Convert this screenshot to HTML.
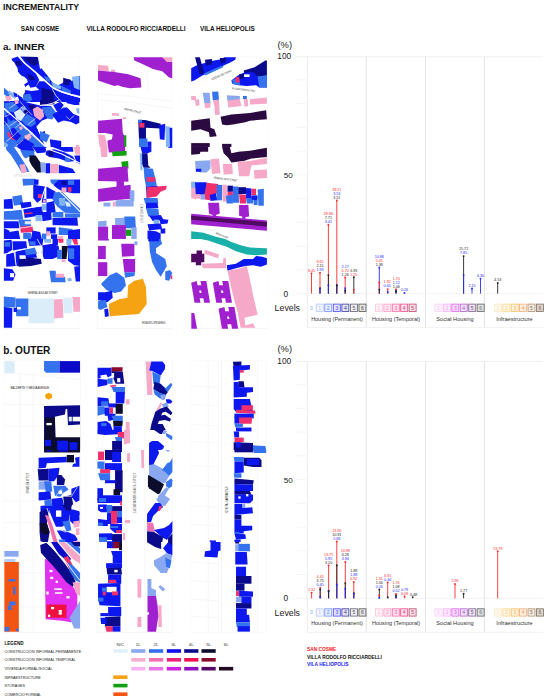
<!DOCTYPE html>
<html><head><meta charset="utf-8"><style>
html,body{margin:0;padding:0;background:#fff;}
svg{display:block;}
text{font-family:"Liberation Sans",sans-serif;}
</style></head><body>
<svg width="550" height="698" viewBox="0 0 550 698">
<rect width="550" height="698" fill="#fff"/>
<clipPath id="c0"><rect x="0.0" y="55.0" width="85.0" height="92.0"/></clipPath>
<g clip-path="url(#c0)"><g transform="translate(0.0,55.0) scale(0.15455)"><polygon points="25,12 518,12 518,595 25,595" fill="#f2f2f2"/><polygon points="27,14 516,14 516,595 27,595" fill="#ffffff"/><polygon points="74,24 115,10 122,12 162,58 232,118 254,162 232,205 197,212 185,191 164,207 156,191 180,175 175,159 159,143 138,132 127,122 116,106 114,85 101,64 93,48 79,37" fill="#0c18ee"/><polygon points="98,37 132,40 140,64 114,71 101,58" fill="#0a0a8a"/><polygon points="176,120 218,141 225,162 190,162" fill="#0a0a8a"/><polygon points="132,10 245,13 259,90 268,85 303,127 338,176 374,198 402,183 444,155 465,169 518,134 518,272 458,254 400,236 345,212 289,162 225,106 162,53" fill="#0c18ee"/><polygon points="150,13 240,13 244,58 222,69 191,53 160,30" fill="#0a0a8a"/><polygon points="176,21 232,14 247,49 204,64" fill="#0a0a8a"/><polygon points="282,134 324,150 324,178 300,165" fill="#3472ee"/><polygon points="331,176 395,200 395,222 345,212" fill="#80b4f4"/><polygon points="395,198 458,230 458,250 400,236" fill="#3472ee"/><polygon points="465,141 515,134 515,226 479,212" fill="#80b4f4"/><polygon points="409,148 458,162 444,198 409,190" fill="#0a0a8a"/><polygon points="162,226 204,233 254,226 232,205 254,170 289,170 345,218 400,244 458,262 518,278 518,304 354,304 154,304 150,262 162,240" fill="#0c18ee"/><polygon points="268,212 352,233 345,304 268,304" fill="#0a0a8a"/><polygon points="150,255 195,250 210,290 185,305 150,290" fill="#3472ee"/><polygon points="26,212 69,249 53,275 26,254" fill="#3472ee"/><polygon points="58,228 106,265 95,286 53,249" fill="#80b4f4"/><polygon points="32,265 69,265 79,291 42,297" fill="#f5a8c8"/><polygon points="111,254 143,275 159,304 127,304" fill="#0c18ee"/><polygon points="85,240 110,250 115,270 95,275" fill="#0c18ee"/><polygon points="26,352 291,595 26,595" fill="#3472ee"/><polygon points="26,300 130,296 259,326 330,330 345,395 270,425 235,465 265,530 291,588 26,344" fill="#0c18ee"/><polygon points="26,312 85,302 122,339 90,371 53,365 32,344" fill="#3472ee"/><polygon points="90,291 116,291 122,312 101,318" fill="#f5a8c8"/><polygon points="106,318 132,312 140,331 122,339" fill="#0c18ee"/><polygon points="132,339 159,333 169,355 148,368" fill="#8aa8f0"/><polygon points="154,360 180,349 191,371 164,386" fill="#0a0a8a"/><polygon points="180,323 217,320 233,339 217,360 191,349" fill="#0a0a8a"/><polygon points="212,349 244,333 275,355 286,397 259,424 222,397" fill="#f5a8c8"/><polygon points="90,371 132,349 164,386 138,429 106,413" fill="#dcedfa"/><polygon points="138,424 175,381 222,408 233,445 201,466 164,455" fill="#3472ee"/><polygon points="37,381 64,376 127,439 106,461 53,413" fill="#0c18ee"/><polygon points="53,439 90,418 132,450 122,477 74,471" fill="#3472ee"/><polygon points="122,466 143,461 148,477 132,487" fill="#f5a8c8"/><polygon points="42,503 69,498 101,530 90,551 64,540" fill="#f0306c"/><polygon points="58,482 90,471 138,524 106,556 74,530" fill="#0c18ee"/><polygon points="148,492 180,482 191,503 159,524" fill="#3472ee"/><polygon points="154,524 191,508 206,530 180,556" fill="#f5a8c8"/><polygon points="111,572 159,540 222,577 212,595 116,595" fill="#0c18ee"/><polygon points="222,466 244,482 233,503 217,492" fill="#0c18ee"/><polygon points="259,503 291,492 291,556 270,540" fill="#0c18ee"/><polygon points="26,561 53,577 48,595 26,595" fill="#80b4f4"/><polygon points="26,355 42,371 37,386 26,381" fill="#3472ee"/><polygon points="26,395 45,400 50,440 26,450" fill="#0c18ee"/><polygon points="26,470 50,480 45,520 26,515" fill="#3472ee"/><polygon points="259,291 365,291 349,318 259,323" fill="#0a0a8a"/><polygon points="418,291 513,291 513,323 481,323 434,312" fill="#0c18ee"/><polygon points="344,323 391,302 412,323 381,371 365,360" fill="#0c18ee"/><polygon points="269,339 333,333 365,376 338,418 312,413 291,386" fill="#3472ee"/><polygon points="338,386 412,339 434,339 476,381 513,397 513,439 492,450 460,434 412,424 375,439" fill="#0c18ee"/><polygon points="492,344 513,344 513,381 497,376" fill="#80b4f4"/><polygon points="259,355 275,349 285,397 259,408" fill="#f5a8c8"/><polygon points="259,492 322,519 301,566 259,545" fill="#3472ee"/><polygon points="322,545 396,556 396,595 328,595" fill="#0c18ee"/><polygon points="492,582 513,582 513,595 492,595" fill="#f5a8c8"/><polyline points="118,6 162,55 225,108 289,164 345,214 400,238 458,256 525,272" fill="none" stroke="#ffffff" stroke-width="10" stroke-linejoin="round" stroke-linecap="butt"/><polyline points="259,326 300,322 340,312 381,291" fill="none" stroke="#ffffff" stroke-width="6" stroke-linejoin="round" stroke-linecap="butt"/><polyline points="26,344 110,420 200,500 291,588" fill="none" stroke="#ffffff" stroke-width="8" stroke-linejoin="round" stroke-linecap="butt"/><polyline points="338,222 360,260 397,304" fill="none" stroke="#ffffff" stroke-width="5" stroke-linejoin="round" stroke-linecap="butt"/><polyline points="428,397 449,418 481,392" fill="none" stroke="#ffffff" stroke-width="4" stroke-linejoin="round" stroke-linecap="butt"/><polyline points="130,300 170,350 210,390" fill="none" stroke="#ffffff" stroke-width="4" stroke-linejoin="round" stroke-linecap="butt"/><polyline points="60,300 100,270" fill="none" stroke="#ffffff" stroke-width="4" stroke-linejoin="round" stroke-linecap="butt"/><polyline points="30,400 70,380" fill="none" stroke="#ffffff" stroke-width="4" stroke-linejoin="round" stroke-linecap="butt"/><polyline points="100,470 140,440" fill="none" stroke="#ffffff" stroke-width="4" stroke-linejoin="round" stroke-linecap="butt"/><polyline points="160,540 210,505" fill="none" stroke="#ffffff" stroke-width="4" stroke-linejoin="round" stroke-linecap="butt"/><polyline points="60,345 110,310" fill="none" stroke="#ffffff" stroke-width="4" stroke-linejoin="round" stroke-linecap="butt"/><polyline points="95,375 150,330" fill="none" stroke="#ffffff" stroke-width="4" stroke-linejoin="round" stroke-linecap="butt"/><polyline points="130,410 180,370" fill="none" stroke="#ffffff" stroke-width="4" stroke-linejoin="round" stroke-linecap="butt"/><polyline points="180,450 230,410" fill="none" stroke="#ffffff" stroke-width="4" stroke-linejoin="round" stroke-linecap="butt"/><polyline points="30,430 60,470 80,520" fill="none" stroke="#ffffff" stroke-width="4" stroke-linejoin="round" stroke-linecap="butt"/><polyline points="60,460 120,420" fill="none" stroke="#ffffff" stroke-width="4" stroke-linejoin="round" stroke-linecap="butt"/><polyline points="40,560 90,520 120,490" fill="none" stroke="#ffffff" stroke-width="4" stroke-linejoin="round" stroke-linecap="butt"/><polyline points="100,590 150,550" fill="none" stroke="#ffffff" stroke-width="4" stroke-linejoin="round" stroke-linecap="butt"/></g></g>
<clipPath id="c1"><rect x="0.0" y="147.0" width="85.0" height="92.0"/></clipPath>
<g clip-path="url(#c1)"><g transform="translate(0.0,147.0) scale(0.15455)"><polygon points="25,0 518,0 518,595 25,595" fill="#f2f2f2"/><polygon points="27,0 516,0 516,595 27,595" fill="#ffffff"/><polygon points="38,0 92,0 175,130 190,160 140,166 120,130 70,50 40,18" fill="#3472ee"/><polygon points="125,115 160,110 175,160 140,170" fill="#f5a8c8"/><polygon points="110,0 210,0 225,30 160,35" fill="#0c18ee"/><polygon points="130,20 220,25 225,60 190,62 165,75 150,60" fill="#3472ee"/><polygon points="190,55 230,55 262,100 265,165 240,165 205,120 190,90" fill="#0c0c2c"/><polygon points="210,0 300,0 295,35 240,40" fill="#0c18ee"/><polygon points="265,100 292,100 292,165 265,165" fill="#8aa8f0"/><polygon points="295,105 325,105 325,170 295,170" fill="#0c18ee"/><polygon points="325,110 375,110 375,170 325,170" fill="#f5a8c8"/><polygon points="380,115 470,140 488,168 380,170" fill="#0c18ee"/><polygon points="300,25 350,15 420,35 470,60 490,90 440,95 380,75 320,65 295,50" fill="#0c18ee"/><polygon points="315,25 345,25 345,60 315,60" fill="#0a0a8a"/><polygon points="420,60 455,60 455,95 420,95" fill="#3472ee"/><polygon points="340,0 470,0 475,30 420,30" fill="#0c18ee"/><polygon points="475,0 518,0 518,50 490,50" fill="#f5a8c8"/><polygon points="480,55 518,55 518,110 495,100" fill="#0c18ee"/><polyline points="295,8 400,45 518,105" fill="none" stroke="#ffffff" stroke-width="7" stroke-linejoin="round" stroke-linecap="butt"/><polyline points="92,-8 165,95 210,170" fill="none" stroke="#ffffff" stroke-width="11" stroke-linejoin="round" stroke-linecap="butt"/><polygon points="145,205 230,205 235,245 150,250" fill="#3472ee"/><polygon points="220,210 250,210 248,245 222,245" fill="#0c18ee"/><polygon points="215,245 290,255 285,330 240,360 215,330" fill="#0c18ee"/><polygon points="245,305 270,305 270,330 245,330" fill="#f0306c"/><polygon points="300,255 360,290 345,335 300,335" fill="#0c18ee"/><polygon points="325,210 380,210 380,240 330,245" fill="#3472ee"/><polygon points="380,212 518,210 518,300 470,300 400,285 340,250" fill="#0c18ee"/><polygon points="400,220 430,220 430,245 400,245" fill="#0a0a8a"/><polygon points="440,215 480,215 480,245 440,245" fill="#3472ee"/><polygon points="398,262 430,262 430,295 398,295" fill="#f5a8c8"/><polygon points="440,260 462,260 462,290 440,290" fill="#f0306c"/><polygon points="350,295 400,290 518,400 518,430 420,425 370,385 340,340" fill="#3472ee"/><polygon points="380,330 420,330 420,380 385,380" fill="#80b4f4"/><polygon points="420,350 450,360 460,385 430,385" fill="#dcedfa"/><polygon points="270,335 300,335 300,360 270,360" fill="#0c18ee"/><polygon points="278,340 296,340 296,358 278,358" fill="#f5a8c8"/><polygon points="25,340 80,335 85,400 25,400" fill="#0c18ee"/><polygon points="80,320 140,310 150,370 90,380" fill="#3472ee"/><polygon points="130,360 200,355 205,395 140,400" fill="#0c18ee"/><polygon points="25,415 140,405 150,470 25,470" fill="#3472ee"/><polygon points="150,400 270,385 280,440 160,460" fill="#0c18ee"/><polygon points="155,428 210,423 210,432 155,437" fill="#f0306c"/><polygon points="270,370 300,370 300,410 270,410" fill="#80b4f4"/><polygon points="300,360 350,350 360,420 300,430" fill="#0c18ee"/><polygon points="230,440 270,440 270,480 230,480" fill="#80b4f4"/><polygon points="270,420 330,420 335,470 275,480" fill="#0c18ee"/><polygon points="340,420 410,420 410,455 340,455" fill="#3472ee"/><polygon points="340,460 500,455 505,510 340,510" fill="#0c18ee"/><polygon points="420,430 518,430 518,455 420,455" fill="#3472ee"/><polygon points="25,480 120,480 125,525 25,525" fill="#0c18ee"/><polygon points="120,470 200,470 200,520 130,520" fill="#3472ee"/><polygon points="160,480 200,480 200,500 160,500" fill="#dcedfa"/><polygon points="130,515 210,510 215,550 135,555" fill="#f0306c"/><polygon points="25,525 60,540 70,595 25,595" fill="#0c18ee"/><polygon points="60,550 120,540 130,595 60,595" fill="#0c18ee"/><polygon points="210,540 260,550 270,595 200,595" fill="#0c18ee"/><polygon points="150,555 200,555 200,595 150,595" fill="#3472ee"/><polygon points="300,520 360,520 360,560 300,560" fill="#0c18ee"/><polygon points="300,545 325,545 325,575 300,575" fill="#f5a8c8"/><polygon points="380,520 470,530 460,570 380,570" fill="#3472ee"/><polygon points="440,540 518,530 518,595 440,595" fill="#0c18ee"/><polygon points="375,578 410,578 410,595 375,595" fill="#f5a8c8"/><polygon points="270,560 300,560 300,595 270,595" fill="#3472ee"/><polygon points="330,565 370,565 370,595 330,595" fill="#0c18ee"/><polyline points="25,412 140,402 270,378" fill="none" stroke="#ffffff" stroke-width="8" stroke-linejoin="round" stroke-linecap="butt"/><polyline points="300,245 280,300 258,375" fill="none" stroke="#ffffff" stroke-width="7" stroke-linejoin="round" stroke-linecap="butt"/><polyline points="315,222 420,320 518,418" fill="none" stroke="#ffffff" stroke-width="7" stroke-linejoin="round" stroke-linecap="butt"/><polyline points="130,525 200,515 300,505 518,515" fill="none" stroke="#ffffff" stroke-width="5" stroke-linejoin="round" stroke-linecap="butt"/></g></g>
<clipPath id="c2"><rect x="0.0" y="239.0" width="85.0" height="92.0"/></clipPath>
<g clip-path="url(#c2)"><g transform="translate(0.0,239.0) scale(0.15455)"><polygon points="25,0 518,0 518,580 25,580" fill="#f2f2f2"/><polygon points="27,0 516,0 516,578 27,578" fill="#ffffff"/><polygon points="25,10 75,5 80,70 40,95 25,95" fill="#0c18ee"/><polygon points="30,20 65,20 65,50 30,50" fill="#3472ee"/><polygon points="80,15 170,15 175,60 110,70 85,75" fill="#0c18ee"/><polygon points="40,100 95,85 105,175 40,180" fill="#0c18ee"/><polygon points="100,80 160,70 200,65 230,85 240,120 190,125 150,130 120,175 105,175" fill="#0c18ee"/><polygon points="160,70 225,55 240,95 170,105" fill="#3472ee"/><polygon points="120,130 185,120 265,130 270,160 200,175 120,180" fill="#0a0a8a"/><polygon points="125,105 165,105 168,128 128,130" fill="#ffffff"/><polygon points="180,0 280,0 275,40 190,45" fill="#0c18ee"/><polygon points="190,15 230,15 230,40 190,40" fill="#3472ee"/><polygon points="275,40 340,30 380,45 385,110 340,130 285,130 270,90" fill="#0c18ee"/><polygon points="280,0 330,0 330,25 290,25" fill="#80b4f4"/><polygon points="375,0 410,0 410,25 380,25" fill="#f0306c"/><polygon points="340,0 375,0 375,40 340,40" fill="#0c18ee"/><polygon points="400,45 440,45 430,130 400,130" fill="#0c0c2c"/><polygon points="398,132 425,132 425,150 398,150" fill="#f5a8c8"/><polygon points="370,70 400,70 400,130 370,130" fill="#3472ee"/><polygon points="440,40 518,40 518,175 480,170 440,140" fill="#0c18ee"/><polygon points="440,60 480,60 480,130 445,130" fill="#3472ee"/><polygon points="430,0 465,0 460,40 430,40" fill="#80b4f4"/><polygon points="465,0 500,0 505,35 480,35" fill="#f0306c"/><polyline points="25,100 90,82 165,62" fill="none" stroke="#ffffff" stroke-width="6" stroke-linejoin="round" stroke-linecap="butt"/><polyline points="92,85 105,178" fill="none" stroke="#ffffff" stroke-width="6" stroke-linejoin="round" stroke-linecap="butt"/><polyline points="240,0 275,60 275,125" fill="none" stroke="#ffffff" stroke-width="5" stroke-linejoin="round" stroke-linecap="butt"/><polygon points="25,190 80,195 100,230 85,270 25,270" fill="#0c18ee"/><polygon points="65,220 92,222 90,248 65,248" fill="#ffffff"/><polygon points="320,205 360,205 365,245 420,245 425,280 330,280" fill="#3472ee"/><polygon points="360,225 415,225 415,250 360,250" fill="#f5a8c8"/><polygon points="435,255 460,250 465,270 440,275" fill="#80b4f4"/><polygon points="480,180 518,175 518,275 490,275" fill="#0c18ee"/><polygon points="180,312 320,312 320,316 180,316" fill="#f0f0f0"/><polygon points="25,372 100,378 100,442 25,445" fill="#3472ee"/><polygon points="25,440 80,448 78,575 25,575" fill="#0c18ee"/><polygon points="100,385 185,385 185,500 105,500" fill="#3472ee"/><polygon points="88,445 110,445 110,472 88,472" fill="#0c18ee"/><polygon points="110,440 135,440 135,456 110,456" fill="#ffffff"/><polygon points="185,385 350,385 350,545 185,545" fill="#dcedfa"/><polygon points="350,392 405,388 410,510 350,515" fill="#f5a8c8"/><polygon points="410,380 470,380 470,480 410,480" fill="#dcedfa"/><polygon points="470,375 518,375 518,470 475,470" fill="#f5a8c8"/></g></g>
<clipPath id="c3"><rect x="88.0" y="55.0" width="85.0" height="92.0"/></clipPath>
<g clip-path="url(#c3)"><g transform="translate(88.0,55.0) scale(0.15455)"><polygon points="60,12 545,12 545,595 60,595" fill="#f0f0f0"/><polygon points="62,14 543,14 543,595 62,595" fill="#ffffff"/><polyline points="62,250 300,270 545,300" fill="none" stroke="#ececec" stroke-width="3" stroke-linejoin="round" stroke-linecap="butt"/><polyline points="62,290 300,310 545,345" fill="none" stroke="#ececec" stroke-width="3" stroke-linejoin="round" stroke-linecap="butt"/><polyline points="380,60 390,240" fill="none" stroke="#f0f0f0" stroke-width="3" stroke-linejoin="round" stroke-linecap="butt"/><polygon points="295,15 480,15 545,45 545,150 525,145 480,105 420,90 345,55 300,35" fill="#a020d0"/><polygon points="480,14 545,14 545,45 510,45" fill="#f5a8c8"/><polygon points="65,65 130,70 135,105 65,100" fill="#f5a8c8"/><polygon points="150,95 175,95 175,115 150,115" fill="#f5a8c8"/><polygon points="65,100 170,110 260,125 340,150 345,210 270,215 220,205 195,195 170,200 65,165" fill="#a020d0"/><polygon points="155,375 200,378 200,395 155,392" fill="#f5a8c8"/><polygon points="225,402 245,402 245,415 225,415" fill="#f5a8c8"/><polygon points="65,425 220,412 225,505 240,530 240,595 130,595 125,555 155,545 160,515 110,505 65,505" fill="#a020d0"/><polygon points="65,515 110,520 125,595 75,595" fill="#f5a8c8"/><polygon points="232,520 248,520 248,595 235,595" fill="#12a012"/><polygon points="325,420 370,420 470,445 470,475 375,470 375,545 330,545" fill="#0a0a8a"/><polygon points="332,440 365,440 365,470 332,470" fill="#f0306c"/><polygon points="325,418 350,418 350,438 325,438" fill="#3472ee"/><polygon points="330,540 385,540 385,595 330,595" fill="#3472ee"/><polygon points="460,455 500,445 495,550 465,545" fill="#0c18ee"/><polygon points="500,460 530,465 530,595 505,595" fill="#80b4f4"/><polygon points="528,470 545,470 545,595 530,595" fill="#0c18ee"/><polygon points="385,560 410,560 410,595 385,595" fill="#0c18ee"/></g></g>
<clipPath id="c4"><rect x="88.0" y="147.0" width="85.0" height="92.0"/></clipPath>
<g clip-path="url(#c4)"><g transform="translate(88.0,147.0) scale(0.15455)"><polygon points="60,0 545,0 545,595 60,595" fill="#f0f0f0"/><polygon points="62,0 543,0 543,595 62,595" fill="#ffffff"/><polygon points="80,0 125,0 125,65 85,65" fill="#f5a8c8"/><polygon points="130,0 240,0 240,30 135,35" fill="#a020d0"/><polygon points="155,30 250,25 250,55 160,60" fill="#12a012"/><polygon points="215,95 260,90 262,140 220,130" fill="#12a012"/><polygon points="65,140 255,125 262,225 65,220" fill="#a020d0"/><polygon points="185,218 232,218 235,280 185,280" fill="#a020d0"/><polygon points="65,272 275,245 278,335 65,355" fill="#a020d0"/><polygon points="270,280 300,280 300,350 270,350" fill="#8aa8f0"/><polygon points="100,360 145,360 145,385 100,385" fill="#8aa8f0"/><polygon points="160,355 180,355 180,385 160,385" fill="#f5a8c8"/><polygon points="180,345 295,340 295,385 180,385" fill="#8aa8f0"/><polygon points="65,480 120,478 120,515 65,515" fill="#8aa8f0"/><polygon points="175,460 240,458 240,505 175,505" fill="#8aa8f0"/><polygon points="235,450 305,450 310,525 240,525" fill="#3472ee"/><polygon points="65,515 130,515 130,595 65,595" fill="#a020d0"/><polygon points="155,505 245,505 245,595 155,595" fill="#a020d0"/><polygon points="245,535 280,535 280,575 245,575" fill="#12a012"/><polygon points="280,520 315,520 315,595 280,595" fill="#8aa8f0"/><polygon points="340,0 410,0 410,30 385,40 350,40" fill="#0c18ee"/><polygon points="350,40 385,40 390,120 405,135 360,135 345,100" fill="#0a0a8a"/><polygon points="335,40 350,40 352,150 340,150" fill="#80b4f4"/><polygon points="360,135 420,140 430,180 440,220 445,250 375,255 365,200" fill="#3472ee"/><polygon points="380,195 435,195 435,225 380,225" fill="#f0306c"/><polygon points="375,255 450,250 460,300 380,330" fill="#0c18ee"/><polygon points="380,260 510,250 505,275 470,290 445,320 380,330" fill="#f0306c"/><polygon points="360,330 450,330 455,365 370,365" fill="#3472ee"/><polygon points="375,360 450,360 455,395 375,400" fill="#0c18ee"/><polygon points="375,395 455,400 460,440 390,450" fill="#3472ee"/><polygon points="395,445 470,440 490,470 420,480" fill="#0c18ee"/><polygon points="425,470 460,470 460,500 425,500" fill="#80b4f4"/><polygon points="460,465 520,470 515,495 470,500" fill="#0c18ee"/><polygon points="385,500 470,495 480,530 395,540" fill="#0c18ee"/><polygon points="385,540 440,545 470,560 470,595 385,595" fill="#0c18ee"/><polygon points="470,530 500,525 500,560 470,560" fill="#0c18ee"/><polygon points="520,0 545,0 545,6 520,6" fill="#0c18ee"/></g></g>
<clipPath id="c5"><rect x="88.0" y="239.0" width="85.0" height="92.0"/></clipPath>
<g clip-path="url(#c5)"><g transform="translate(88.0,239.0) scale(0.15455)"><polygon points="60,0 545,0 545,580 60,580" fill="#f0f0f0"/><polygon points="62,0 543,0 543,578 62,578" fill="#ffffff"/><polygon points="65,0 135,0 135,10 65,10" fill="#a020d0"/><polygon points="65,45 115,45 115,130 65,130" fill="#a020d0"/><polygon points="215,30 300,30 300,110 220,115" fill="#a020d0"/><polygon points="65,150 125,150 125,240 65,240" fill="#a020d0"/><polygon points="225,130 305,130 305,215 235,215" fill="#a020d0"/><polygon points="300,15 320,15 320,40 300,40" fill="#8aa8f0"/><polygon points="235,215 305,215 300,240 240,250" fill="#3472ee"/><polygon points="85,290 140,235 185,215 235,250 245,300 215,340 170,350 120,330 90,300" fill="#3472ee"/><polygon points="65,345 110,345 155,335 160,380 125,410 65,395" fill="#0c18ee"/><polygon points="65,400 115,395 125,440 80,460 65,450" fill="#3472ee"/><polygon points="105,455 130,450 135,500 110,505" fill="#0c18ee"/><polygon points="135,420 200,390 255,380 260,300 300,270 355,258 375,310 380,420 330,485 140,500" fill="#f5a312"/><polygon points="395,0 470,0 480,30 440,60 440,90 500,130 510,175 485,220 470,245 440,200 415,150 400,80" fill="#3472ee"/><polygon points="390,0 460,0 460,15 390,15" fill="#0c18ee"/><polygon points="500,210 530,200 545,220 525,270 500,265" fill="#3472ee"/><polygon points="535,235 545,235 545,260 535,260" fill="#f0306c"/></g></g>
<clipPath id="c6"><rect x="185.0" y="55.0" width="85.0" height="92.0"/></clipPath>
<g clip-path="url(#c6)"><g transform="translate(185.0,55.0) scale(0.15455)"><polygon points="38,12 532,12 532,595 38,595" fill="#f0f0f0"/><polygon points="40,14 530,14 530,595 40,595" fill="#ffffff"/><polygon points="40,85 70,70 100,62 130,50 180,38 235,28 255,15 330,15 325,30 300,45 240,72 170,105 110,135 60,165 40,172" fill="#0c18ee"/><polygon points="65,15 96,15 123,110 120,125 93,123" fill="#0a0a8a"/><polygon points="129,30 174,26 176,60 135,68" fill="#0a0a8a"/><polygon points="226,19 265,19 262,48 230,55" fill="#0a0a8a"/><polygon points="125,118 175,95 240,68 250,78 180,110 130,132" fill="#3472ee"/><polygon points="380,100 450,80 520,35 530,35 530,140 470,140 420,130 385,130" fill="#0a0a8a"/><polygon points="300,165 340,135 380,115 440,110 470,140 530,140 530,210 480,210 460,195 400,200 345,195 305,185" fill="#0c18ee"/><polygon points="470,140 530,130 530,210 480,210" fill="#3472ee"/><polygon points="305,160 345,150 360,195 310,190" fill="#3472ee"/><polygon points="325,145 350,140 355,175 330,180" fill="#f0306c"/><polygon points="350,125 380,120 385,150 355,155" fill="#0a0a8a"/><polygon points="382,125 418,125 418,142 382,142" fill="#ffffff"/><polygon points="40,265 70,265 72,290 90,285 95,325 70,330 65,295 40,290" fill="#f5a8c8"/><polygon points="115,245 160,245 165,310 125,310" fill="#8aa8f0"/><polygon points="125,310 165,310 165,340 130,345" fill="#f5a8c8"/><polygon points="175,238 215,236 220,290 180,292" fill="#3472ee"/><polygon points="180,292 220,290 225,385 195,390 190,330" fill="#f5a8c8"/><polygon points="270,260 355,265 355,300 275,300" fill="#8aa8f0"/><polygon points="275,295 355,285 365,330 280,340" fill="#f5a8c8"/><polygon points="375,265 400,265 400,285 375,285" fill="#3472ee"/><polygon points="380,285 405,285 410,330 385,335" fill="#f5a8c8"/><polygon points="420,285 530,275 530,315 420,320" fill="#f5a8c8"/><polygon points="40,425 160,410 165,470 190,480 205,525 160,530 155,500 100,480 40,490" fill="#2a0a40"/><polygon points="230,400 300,385 420,375 525,358 530,415 420,425 390,435 310,450 270,455 240,450" fill="#2a0a40"/><polygon points="40,570 160,570 160,595 40,595" fill="#2a0a40"/><polygon points="240,575 300,575 300,595 240,595" fill="#2a0a40"/></g></g>
<clipPath id="c7"><rect x="185.0" y="147.0" width="85.0" height="92.0"/></clipPath>
<g clip-path="url(#c7)"><g transform="translate(185.0,147.0) scale(0.15455)"><polygon points="38,0 532,0 532,595 38,595" fill="#f0f0f0"/><polygon points="40,0 530,0 530,595 40,595" fill="#ffffff"/><polygon points="40,0 150,0 150,30 100,30 95,45 40,50" fill="#2a0a40"/><polygon points="240,0 290,0 300,40 345,30 420,25 530,5 530,65 430,75 380,90 300,100 280,70 250,40" fill="#2a0a40"/><polygon points="65,90 165,85 165,140 140,165 105,165 70,160" fill="#8aa8f0"/><polygon points="70,140 105,140 105,160 72,160" fill="#0c18ee"/><polygon points="165,80 220,75 230,170 175,175" fill="#f5a8c8"/><polygon points="245,110 305,110 310,175 250,178" fill="#f5a8c8"/><polygon points="340,95 420,90 530,70 530,110 430,120 415,190 350,190" fill="#f5a8c8"/><polygon points="445,150 530,145 530,200 450,205" fill="#f5a8c8"/><polygon points="40,225 70,225 70,340 40,330" fill="#f5a8c8"/><polygon points="40,225 70,225 70,265 40,262" fill="#80b4f4"/><polygon points="65,228 140,228 145,305 70,310" fill="#0c18ee"/><polygon points="140,232 215,240 210,300 175,320 160,345 130,340 125,310" fill="#f0306c"/><polygon points="100,310 130,310 130,340 100,340" fill="#8aa8f0"/><polygon points="70,305 100,305 100,335 70,335" fill="#f5a8c8"/><polygon points="160,310 200,300 210,345 165,350" fill="#0c18ee"/><polygon points="205,245 240,245 240,345 205,345" fill="#3472ee"/><polygon points="240,245 270,245 275,355 245,355" fill="#f5a8c8"/><polygon points="275,250 310,250 310,290 275,290" fill="#0a0a8a"/><polygon points="275,290 310,290 310,315 275,315" fill="#f0306c"/><polygon points="265,315 310,310 310,365 270,365" fill="#3472ee"/><polygon points="310,255 345,255 350,360 310,360" fill="#3472ee"/><polygon points="345,260 395,260 395,305 345,305" fill="#0a0a8a"/><polygon points="350,305 395,310 395,365 355,365" fill="#f0306c"/><polygon points="395,265 430,268 430,330 395,330" fill="#0c18ee"/><polygon points="395,330 440,330 440,365 400,365" fill="#3472ee"/><polygon points="430,270 460,270 460,315 430,315" fill="#f0306c"/><polygon points="440,310 470,310 470,375 445,375" fill="#3472ee"/><polygon points="470,275 510,270 510,380 475,380" fill="#3472ee"/><polygon points="430,315 470,320 465,345 430,340" fill="#0c18ee"/><polygon points="150,360 220,360 225,430 200,440 200,470 180,470 180,440 155,430" fill="#a020d0"/><polygon points="350,375 410,375 415,450 390,455 390,475 370,475 370,450 350,445" fill="#a020d0"/><polygon points="40,432 530,475 530,542 40,500" fill="#a020d0"/><polygon points="40,445 180,458 530,485 530,515 180,482 40,470" fill="#500a62"/><polygon points="40,545 120,555 200,580 260,595 40,595" fill="#18b0a8"/></g></g>
<clipPath id="c8"><rect x="185.0" y="239.0" width="85.0" height="92.0"/></clipPath>
<g clip-path="url(#c8)"><g transform="translate(185.0,239.0) scale(0.15455)"><polygon points="38,0 532,0 532,580 38,580" fill="#f0f0f0"/><polygon points="40,0 530,0 530,578 40,578" fill="#ffffff"/><polygon points="100,0 260,0 300,20 360,40 420,55 530,60 530,100 460,105 400,100 330,80 270,50 210,30 150,10" fill="#18b0a8"/><polygon points="40,95 75,95 75,75 110,75 110,95 125,95 125,150 105,150 105,170 70,170 70,150 40,150" fill="#500a62"/><polygon points="130,70 220,100 215,125 125,95" fill="#f5a8c8"/><polygon points="110,160 245,155 250,120 265,125 265,190 115,190" fill="#f5a8c8"/><polygon points="270,170 330,160 380,130 440,130 460,110 500,115 530,125 530,165 490,180 440,170 390,175 330,190 275,205" fill="#0c18ee"/><polygon points="275,205 360,190 400,175 420,260 440,360 470,490 385,510 390,560 440,545 455,575 360,575 340,470 320,400 295,300" fill="#f5a8c8"/><polygon points="85,325 105,325 105,345 85,345" fill="#ffffff"/><polygon points="220,330 240,330 240,350 220,350" fill="#ffffff"/><polygon points="262,468 282,468 282,488 262,488" fill="#ffffff"/><polygon points="40,283 76,272 81,300 105,300 100,272 138,272 162,412 124,412 119,384 95,384 100,412 62,412" fill="#a020d0"/><polygon points="92,334 104,334 107,350 95,350" fill="#ffffff"/><polygon points="180,283 217,272 222,300 246,300 241,272 280,272 304,412 265,412 260,384 236,384 241,412 202,412" fill="#a020d0"/><polygon points="233,334 246,334 248,350 236,350" fill="#ffffff"/><polygon points="217,451 255,440 260,468 285,468 280,440 320,440 344,580 304,580 299,552 274,552 279,580 239,580" fill="#a020d0"/><polygon points="272,502 284,502 287,518 275,518" fill="#ffffff"/><polygon points="41,479 60,479 78,580 41,580" fill="#a020d0"/></g></g>
<clipPath id="c9"><rect x="0.0" y="358.0" width="85.0" height="92.0"/></clipPath>
<g clip-path="url(#c9)"><g transform="translate(0.0,358.0) scale(0.15455)"><polygon points="25,18 520,18 520,595 25,595" fill="#f0f0f0"/><polygon points="27,20 518,20 518,595 27,595" fill="#ffffff"/><polyline points="130,100 130,595" fill="none" stroke="#ececec" stroke-width="3" stroke-linejoin="round" stroke-linecap="butt"/><polyline points="215,100 215,595" fill="none" stroke="#ececec" stroke-width="3" stroke-linejoin="round" stroke-linecap="butt"/><polyline points="27,300 280,300" fill="none" stroke="#eeeeee" stroke-width="3" stroke-linejoin="round" stroke-linecap="butt"/><polyline points="27,440 280,440" fill="none" stroke="#eeeeee" stroke-width="3" stroke-linejoin="round" stroke-linecap="butt"/><polyline points="100,100 518,140 518,160" fill="none" stroke="#eeeeee" stroke-width="3" stroke-linejoin="round" stroke-linecap="butt"/><polygon points="28,20 95,20 95,100 28,100" fill="#dcedfa"/><polygon points="285,20 385,20 385,95 298,95 285,82" fill="#3472ee"/><polygon points="385,20 518,20 518,95 385,95" fill="#0a0ac8"/><polygon points="315,225 337,236 337,258 315,270 293,258 293,236" fill="#f5a312"/><polygon points="285,310 518,305 518,595 285,595" fill="#0a0a8a"/><polygon points="355,380 420,365 425,330 435,330 440,435 518,430 518,520 360,520" fill="#ffffff"/><polygon points="290,385 355,385 355,515 290,515" fill="#0c0c2c"/><polygon points="300,420 335,420 335,435 300,435" fill="#ffffff"/><polygon points="445,380 465,380 465,410 445,410" fill="#dcedfa"/><polygon points="470,380 518,380 518,410 470,410" fill="#ffffff"/><polygon points="285,512 518,512 518,595 285,595" fill="#0c0c2c"/><polygon points="370,535 440,535 440,595 370,595" fill="#0c18ee"/><polygon points="450,545 500,545 500,595 450,595" fill="#0c18ee"/><polygon points="290,530 330,530 330,570 290,570" fill="#0c18ee"/></g></g>
<clipPath id="c10"><rect x="0.0" y="450.0" width="85.0" height="92.0"/></clipPath>
<g clip-path="url(#c10)"><g transform="translate(0.0,450.0) scale(0.15455)"><polygon points="25,0 520,0 520,595 25,595" fill="#f0f0f0"/><polygon points="27,0 518,0 518,595 27,595" fill="#ffffff"/><polyline points="130,0 130,595" fill="none" stroke="#ececec" stroke-width="3" stroke-linejoin="round" stroke-linecap="butt"/><polyline points="215,0 215,595" fill="none" stroke="#ececec" stroke-width="3" stroke-linejoin="round" stroke-linecap="butt"/><polyline points="27,330 215,330" fill="none" stroke="#eeeeee" stroke-width="3" stroke-linejoin="round" stroke-linecap="butt"/><polyline points="27,470 215,470" fill="none" stroke="#eeeeee" stroke-width="3" stroke-linejoin="round" stroke-linecap="butt"/><polygon points="285,0 518,0 518,16 285,16" fill="#0c0c2c"/><polygon points="300,0 330,0 330,10 300,10" fill="#0a0ac8"/><polygon points="380,0 440,0 440,12 380,12" fill="#0a0ac8"/><polygon points="250,50 432,44 432,80 303,85 297,115 250,121" fill="#0c18ee"/><polygon points="432,32 479,32 479,80 432,80" fill="#0c0c2c"/><polygon points="485,50 514,44 514,109 467,109 473,91 491,85" fill="#0c18ee"/><polygon points="244,121 315,121 315,197 250,197" fill="#0a0a8a"/><polygon points="315,121 385,115 379,162 350,203 315,203" fill="#0c18ee"/><polygon points="368,162 397,162 421,191 415,226 368,226" fill="#0a0a8a"/><polygon points="250,203 303,203 303,256 250,256" fill="#8aa8f0"/><polygon points="285,203 332,203 338,268 297,273" fill="#3472ee"/><polygon points="250,273 326,268 332,320 250,326" fill="#0c18ee"/><polygon points="344,232 421,232 444,256 409,279 391,303 356,297" fill="#3472ee"/><polygon points="379,262 403,262 403,285 379,285" fill="#ffffff"/><polygon points="462,250 514,232 514,326 491,338 462,303" fill="#0c18ee"/><polygon points="409,303 462,291 473,350 444,385 415,362" fill="#0a0a8a"/><polygon points="332,315 403,309 415,362 391,409 344,409" fill="#0c18ee"/><polygon points="262,362 315,356 320,409 262,409" fill="#0c18ee"/><polygon points="285,326 332,320 338,362 291,362" fill="#3472ee"/><polygon points="426,385 473,385 514,397 514,421 426,421" fill="#0c18ee"/><polygon points="256,403 303,379 315,426 303,474 321,532 309,603 262,591 256,532 256,450" fill="#0a0a8a"/><polygon points="256,474 303,474 321,532 297,550 262,532" fill="#0c0c2c"/><polygon points="309,362 403,356 450,415 444,462 403,497 362,497 332,427" fill="#0c18ee"/><polygon points="362,391 397,391 397,432 362,432" fill="#ffffff"/><polygon points="403,356 462,356 462,391 426,391" fill="#0a0a8a"/><polygon points="450,403 514,403 514,474 473,479 450,456" fill="#0c18ee"/><polygon points="403,462 450,456 462,521 432,532" fill="#3472ee"/><polygon points="473,462 514,456 514,497 479,503" fill="#f5a8c8"/><polygon points="368,521 415,521 485,550 503,579 473,615 432,603 397,573" fill="#0c18ee"/><polygon points="491,509 514,503 514,550 491,550" fill="#f5a8c8"/><polygon points="379,579 420,579 432,626 397,632" fill="#3472ee"/><polygon points="473,591 514,585 514,668 473,668" fill="#f5a8c8"/><polygon points="409,632 462,626 491,685 450,697" fill="#f5a8c8"/><polygon points="262,597 309,603 356,662 391,732 344,744 309,697 268,685" fill="#0a0a8a"/><polygon points="291,421 315,426 344,491 368,579 391,650 373,662 344,591 321,503" fill="#f070b0"/><polyline points="303,375 330,450 356,530 380,600 400,660" fill="none" stroke="#ffffff" stroke-width="5" stroke-linejoin="round" stroke-linecap="butt"/><polyline points="362,500 420,530 480,520" fill="none" stroke="#ffffff" stroke-width="5" stroke-linejoin="round" stroke-linecap="butt"/><polyline points="250,122 303,118" fill="none" stroke="#ffffff" stroke-width="5" stroke-linejoin="round" stroke-linecap="butt"/><polyline points="330,318 360,300 400,250" fill="none" stroke="#ffffff" stroke-width="4" stroke-linejoin="round" stroke-linecap="butt"/><polyline points="420,300 462,300 500,240" fill="none" stroke="#ffffff" stroke-width="4" stroke-linejoin="round" stroke-linecap="butt"/></g></g>
<clipPath id="c11"><rect x="0.0" y="542.0" width="85.0" height="92.0"/></clipPath>
<g clip-path="url(#c11)"><g transform="translate(0.0,542.0) scale(0.15455)"><polygon points="25,0 520,0 520,585 25,585" fill="#f0f0f0"/><polygon points="27,0 518,0 518,583 27,583" fill="#ffffff"/><polyline points="130,0 130,580" fill="none" stroke="#ececec" stroke-width="3" stroke-linejoin="round" stroke-linecap="butt"/><polyline points="215,0 215,580" fill="none" stroke="#ececec" stroke-width="3" stroke-linejoin="round" stroke-linecap="butt"/><polyline points="130,200 280,200" fill="none" stroke="#eeeeee" stroke-width="3" stroke-linejoin="round" stroke-linecap="butt"/><polyline points="130,420 280,420" fill="none" stroke="#eeeeee" stroke-width="3" stroke-linejoin="round" stroke-linecap="butt"/><polygon points="28,58 120,58 120,95 28,95" fill="#8aa8f0"/><polygon points="28,110 100,110 100,130 28,130" fill="#b8cdf6"/><polygon points="28,130 122,130 122,580 28,580" fill="#f25512"/><polygon points="55,240 100,240 100,255 55,255" fill="#3472ee"/><polygon points="85,290 100,290 100,340 85,340" fill="#3472ee"/><polygon points="60,385 100,385 100,410 60,410" fill="#3472ee"/><polygon points="50,410 75,410 75,440 50,440" fill="#3472ee"/><polygon points="30,550 60,550 60,578 30,578" fill="#3472ee"/><polygon points="105,560 120,560 120,578 105,578" fill="#3472ee"/><polygon points="290,110 330,120 380,180 430,240 480,300 500,340 500,480 460,520 400,510 295,500" fill="#e032f0"/><polygon points="300,405 430,405 430,490 300,490" fill="#f01040"/><polygon points="320,180 340,180 340,195 320,195" fill="#ffffff"/><polygon points="325,225 345,225 345,240 325,240" fill="#ffffff"/><polygon points="350,300 400,300 400,310 350,310" fill="#ffffff"/><polygon points="355,325 405,325 405,335 355,335" fill="#ffffff"/><polygon points="300,320 315,320 315,340 300,340" fill="#ffffff"/><polygon points="430,350 450,350 450,365 430,365" fill="#ffffff"/><polygon points="330,420 350,420 350,435 330,435" fill="#ffffff"/><polygon points="380,440 400,440 400,470 380,470" fill="#ffffff"/><polygon points="310,470 325,470 325,485 310,485" fill="#ffffff"/><polygon points="360,250 375,250 375,265 360,265" fill="#ffffff"/><polygon points="260,20 300,5 330,30 370,80 420,140 470,210 490,260 470,290 430,260 390,210 340,150 300,110 265,70" fill="#0a0a8a"/><polygon points="330,0 370,0 420,60 460,110 440,130 380,80" fill="#0a0ac8"/><polygon points="380,0 420,0 518,90 518,140 470,110 420,50" fill="#f5a8c8"/><polygon points="430,0 470,0 518,40 518,80" fill="#3472ee"/><polygon points="460,0 518,0 518,30 480,25" fill="#0a0a8a"/><polygon points="410,100 440,90 490,190 460,200" fill="#f0306c"/><polygon points="440,130 480,160 518,200 518,260 490,250 450,190" fill="#3472ee"/><polygon points="470,260 518,260 518,350 490,330" fill="#f5a8c8"/><polygon points="450,490 518,380 518,560 480,560" fill="#8aa8f0"/><polyline points="300,0 360,60 420,120 480,200 518,250" fill="none" stroke="#ffffff" stroke-width="6" stroke-linejoin="round" stroke-linecap="butt"/></g></g>
<clipPath id="c12"><rect x="88.0" y="358.0" width="85.0" height="92.0"/></clipPath>
<g clip-path="url(#c12)"><g transform="translate(88.0,358.0) scale(0.15455)"><polygon points="60,18 548,18 548,595 60,595" fill="#f0f0f0"/><polygon points="62,20 546,20 546,595 62,595" fill="#ffffff"/><polyline points="245,20 245,595" fill="none" stroke="#eeeeee" stroke-width="3" stroke-linejoin="round" stroke-linecap="butt"/><polyline points="368,20 368,595" fill="none" stroke="#eeeeee" stroke-width="3" stroke-linejoin="round" stroke-linecap="butt"/><polyline points="62,40 240,40" fill="none" stroke="#eeeeee" stroke-width="3" stroke-linejoin="round" stroke-linecap="butt"/><polygon points="62,63 152,63 152,114 125,127 85,130 62,134" fill="#0c18ee"/><polygon points="152,60 225,60 222,87 152,90" fill="#8a0a2a"/><polygon points="152,87 225,87 235,167 179,167 165,134" fill="#0a0a8a"/><polygon points="79,114 119,107 132,134 85,134" fill="#ffffff"/><polygon points="189,130 209,130 209,157 189,157" fill="#ffffff"/><polygon points="155,97 169,97 169,127 155,127" fill="#ffffff"/><polygon points="125,134 159,130 159,167 125,167" fill="#3472ee"/><polygon points="62,134 125,140 125,174 62,187" fill="#0c18ee"/><polygon points="145,177 182,174 182,184 145,187" fill="#f0306c"/><polygon points="152,187 239,187 239,220 165,220" fill="#3472ee"/><polygon points="179,220 239,220 235,294 179,294" fill="#0c18ee"/><polygon points="62,254 132,260 139,307 62,314" fill="#0c18ee"/><polygon points="85,280 132,280 132,314 85,314" fill="#3472ee"/><polygon points="132,294 185,294 185,320 132,320" fill="#0c18ee"/><polygon points="179,297 225,297 225,361 179,361" fill="#0c0c2c"/><polygon points="139,320 162,320 162,361 139,361" fill="#f0306c"/><polygon points="62,314 105,314 112,361 62,374" fill="#3472ee"/><polygon points="105,320 139,320 139,374 109,374" fill="#0c18ee"/><polygon points="125,361 179,361 172,400 132,407" fill="#0c18ee"/><polygon points="152,374 225,374 225,407 165,407" fill="#3472ee"/><polygon points="162,407 225,407 222,441 165,441" fill="#0c0c2c"/><polygon points="62,414 119,407 145,427 159,466 62,466" fill="#0c18ee"/><polygon points="85,421 119,421 119,441 85,441" fill="#3472ee"/><polygon points="165,441 219,441 219,466 165,466" fill="#0c18ee"/><polygon points="245,267 269,267 269,300 245,300" fill="#f5a8c8"/><polygon points="245,414 269,414 269,466 245,466" fill="#f5a8c8"/><polygon points="61,466 220,466 220,492 110,498 61,492" fill="#0c18ee"/><polygon points="191,479 240,479 240,521 195,518" fill="#f0306c"/><polygon points="175,511 220,511 220,537 181,537" fill="#3472ee"/><polygon points="156,537 220,537 220,595 156,595" fill="#0a0a8a"/><polygon points="233,466 272,466 272,550 233,560" fill="#f5a8c8"/><polygon points="373,23 410,23 417,240 383,240" fill="#f5a8c8"/><polygon points="410,23 483,23 500,47 497,73 470,114 423,87 396,80 403,53" fill="#0c18ee"/><polygon points="416,87 470,114 463,174 423,167" fill="#3472ee"/><polygon points="430,154 470,167 497,194 517,220 503,240 463,227 423,200" fill="#0a0a8a"/><polygon points="470,167 503,194 537,160 546,174 517,220" fill="#3472ee"/><polygon points="423,200 463,227 503,240 497,267 463,260 430,234" fill="#3472ee"/><polygon points="470,240 503,240 490,274 470,267" fill="#8aa8f0"/><polygon points="430,360 470,287 480,294 443,374" fill="#f5a8c8"/><polygon points="503,267 530,267 546,280 537,294 510,294" fill="#0c18ee"/><polygon points="477,300 510,287 523,314 490,327" fill="#8aa8f0"/><polygon points="436,347 470,327 483,347 436,466 403,466 410,427" fill="#0a0a8a"/><polygon points="470,327 510,314 546,354 537,371 503,347 477,354" fill="#0a0a8a"/><polygon points="463,374 497,367 537,394 530,411 497,401 456,407" fill="#0a0a8a"/><polygon points="430,427 483,427 503,466 423,466" fill="#0a0a8a"/><polygon points="427,466 492,466 479,492 466,492" fill="#0a0a8a"/><polygon points="492,466 512,472 499,492 479,492" fill="#8aa8f0"/><polygon points="505,485 544,505 546,524 538,531 505,505" fill="#3472ee"/><polygon points="395,550 414,537 453,537 492,570 486,589 470,595 395,595" fill="#0c18ee"/></g></g>
<clipPath id="c13"><rect x="88.0" y="450.0" width="85.0" height="92.0"/></clipPath>
<g clip-path="url(#c13)"><g transform="translate(88.0,450.0) scale(0.15455)"><polygon points="60,0 548,0 548,595 60,595" fill="#f0f0f0"/><polygon points="62,0 546,0 546,595 62,595" fill="#ffffff"/><polyline points="245,0 245,595" fill="none" stroke="#eeeeee" stroke-width="3" stroke-linejoin="round" stroke-linecap="butt"/><polyline points="368,0 368,595" fill="none" stroke="#eeeeee" stroke-width="3" stroke-linejoin="round" stroke-linecap="butt"/><polygon points="156,0 220,0 220,13 175,13" fill="#0a0a8a"/><polygon points="110,-6 175,-6 175,65 110,65" fill="#0a0a8a"/><polygon points="156,13 214,13 214,78 156,78" fill="#0c18ee"/><polygon points="65,10 104,10 104,65 65,65" fill="#f0306c"/><polygon points="61,75 107,75 107,124 61,120" fill="#3472ee"/><polygon points="110,85 220,85 220,130 110,130" fill="#0c18ee"/><polygon points="78,124 143,124 143,150 78,150" fill="#f0306c"/><polygon points="65,150 143,150 143,195 80,195" fill="#3472ee"/><polygon points="175,130 224,130 224,273 175,273" fill="#0a0a8a"/><polygon points="110,195 175,195 175,215 110,215" fill="#0c18ee"/><polygon points="165,254 208,254 208,293 165,293" fill="#0c0c2c"/><polygon points="61,247 97,247 97,324 61,324" fill="#0c18ee"/><polygon points="97,293 220,293 220,324 97,324" fill="#0c18ee"/><polygon points="253,20 272,20 272,78 253,78" fill="#f5a8c8"/><polygon points="240,0 272,0 272,-32 240,0" fill="#f5a8c8"/><polygon points="61,311 220,311 220,343 61,343" fill="#0c18ee"/><polygon points="71,311 117,311 117,337 71,337" fill="#3472ee"/><polygon points="208,330 220,330 220,359 208,359" fill="#f0306c"/><polygon points="65,353 123,353 123,402 85,402 65,390" fill="#0c18ee"/><polygon points="78,368 97,368 97,381 78,381" fill="#ffffff"/><polygon points="117,356 156,356 156,408 123,408" fill="#3472ee"/><polygon points="156,363 220,363 220,395 156,395" fill="#0a0a8a"/><polygon points="188,395 220,395 220,434 188,434" fill="#3472ee"/><polygon points="143,395 188,395 195,476 149,479" fill="#f0306c"/><polygon points="123,408 149,408 149,479 123,479" fill="#0c18ee"/><polygon points="188,434 220,434 220,473 188,473" fill="#0c18ee"/><polygon points="65,447 123,453 130,492 65,492" fill="#0c18ee"/><polygon points="65,470 97,470 97,492 65,492" fill="#3472ee"/><polygon points="143,479 220,479 220,531 175,537 143,510" fill="#0c18ee"/><polygon points="143,492 195,492 195,505 143,505" fill="#3472ee"/><polygon points="182,518 220,518 220,538 182,538" fill="#f0306c"/><polygon points="71,541 156,538 162,583 71,583" fill="#0c18ee"/><polygon points="156,544 220,544 220,595 156,595" fill="#0a0a8a"/><polygon points="71,564 123,564 123,595 71,595" fill="#3472ee"/><polygon points="123,590 162,590 162,595 123,595" fill="#0c18ee"/><polygon points="240,453 272,453 272,473 240,473" fill="#f5a8c8"/><polygon points="227,538 240,538 240,583 227,583" fill="#f5a8c8"/><polygon points="343,0 362,0 362,117 346,117" fill="#f5a8c8"/><polygon points="395,0 460,0 460,20 427,85 421,98 395,98" fill="#0c18ee"/><polygon points="492,0 531,0 518,13 499,0" fill="#8aa8f0"/><polygon points="395,98 427,91 499,130 525,169 499,215 466,208 395,163" fill="#8aa8f0"/><polygon points="479,130 512,85 531,78 546,52 546,143 525,169 499,143" fill="#3472ee"/><polygon points="388,163 395,163 492,221 466,280 453,286 395,247 388,234" fill="#0c0c2c"/><polygon points="505,208 538,182 546,195 544,234 525,247 505,234" fill="#3472ee"/><polygon points="453,299 505,241 525,247 499,293 486,324 453,324" fill="#8aa8f0"/><polygon points="453,0 492,0 486,10 460,20" fill="#ffffff"/><polygon points="440,317 492,291 531,317 499,363 466,356" fill="#8aa8f0"/><polygon points="382,414 434,343 466,343 486,369 453,395 421,427 408,466 382,466" fill="#0c18ee"/><polygon points="460,363 479,363 466,395 453,395" fill="#f0306c"/><polygon points="382,466 421,473 434,531 382,525" fill="#f070b0"/><polygon points="427,518 492,505 525,486 546,460 546,531 511,583 479,564" fill="#0c18ee"/><polygon points="382,525 427,531 486,564 473,641 434,628 382,596" fill="#0a0a8a"/><polygon points="518,570 546,538 546,616 518,616" fill="#0a0a8a"/><polygon points="486,635 518,596 546,616 546,680 511,667" fill="#0c18ee"/></g></g>
<clipPath id="c14"><rect x="88.0" y="542.0" width="85.0" height="92.0"/></clipPath>
<g clip-path="url(#c14)"><g transform="translate(88.0,542.0) scale(0.15455)"><polygon points="60,0 548,0 548,585 60,585" fill="#f0f0f0"/><polygon points="62,0 546,0 546,583 62,583" fill="#ffffff"/><polyline points="245,0 245,580" fill="none" stroke="#eeeeee" stroke-width="3" stroke-linejoin="round" stroke-linecap="butt"/><polyline points="368,0 368,580" fill="none" stroke="#eeeeee" stroke-width="3" stroke-linejoin="round" stroke-linecap="butt"/><polygon points="123,0 169,0 169,40 123,40" fill="#0c18ee"/><polygon points="162,0 201,0 201,40 162,40" fill="#8a0a2a"/><polygon points="201,0 220,0 220,53 201,53" fill="#0c0c2c"/><polygon points="149,59 220,59 220,137 160,137 160,90" fill="#0c18ee"/><polygon points="117,137 220,137 220,168 117,168" fill="#0c18ee"/><polygon points="120,168 215,165 220,210 125,210" fill="#0a0a8a"/><polygon points="170,180 192,180 192,196 170,196" fill="#ffffff"/><polygon points="130,210 215,210 215,270 130,265" fill="#0c18ee"/><polygon points="130,245 180,245 185,265 135,265" fill="#f0306c"/><polygon points="65,270 210,265 210,415 75,410 65,360" fill="#0c18ee"/><polygon points="120,290 185,290 185,325 120,325" fill="#ffffff"/><polygon points="95,320 115,320 115,345 95,345" fill="#f0306c"/><polygon points="155,320 195,320 195,345 155,345" fill="#f0306c"/><polygon points="90,295 120,295 120,320 90,320" fill="#3472ee"/><polygon points="65,360 100,360 100,385 65,385" fill="#3472ee"/><polygon points="130,420 215,420 215,480 130,480" fill="#0c18ee"/><polygon points="80,460 130,460 130,480 80,480" fill="#0c18ee"/><polygon points="110,485 210,480 210,545 110,545" fill="#0a0a8a"/><polygon points="80,490 120,490 120,530 85,530" fill="#0c18ee"/><polygon points="110,545 165,545 160,580 120,580" fill="#f0306c"/><polygon points="160,545 210,545 210,580 160,580" fill="#0c18ee"/><polygon points="320,240 345,240 345,360 320,360" fill="#f5a8c8"/><polygon points="320,485 345,485 345,550 320,550" fill="#f5a8c8"/><polygon points="455,410 475,410 478,550 455,550" fill="#f5a8c8"/><polygon points="382,0 473,0 473,46 434,33 382,1" fill="#0a0a8a"/><polygon points="518,0 546,0 546,21 518,21" fill="#0a0a8a"/><polygon points="486,40 518,1 546,21 546,85 511,72" fill="#0c18ee"/><polygon points="427,118 466,98 505,72 546,85 531,149 427,149" fill="#8aa8f0"/><polygon points="427,149 531,149 510,200 470,200" fill="#8aa8f0"/><polygon points="500,100 540,120 530,170 505,160" fill="#3472ee"/><polygon points="455,290 470,280 500,305 485,320" fill="#8aa8f0"/><polygon points="385,240 410,240 410,300 440,310 440,355 385,355" fill="#8aa8f0"/><polygon points="385,350 440,350 450,410 455,480 440,580 385,580" fill="#a020d0"/><polygon points="380,455 395,455 395,470 380,470" fill="#ffffff"/></g></g>
<clipPath id="c15"><rect x="185.0" y="358.0" width="85.0" height="92.0"/></clipPath>
<g clip-path="url(#c15)"><g transform="translate(185.0,358.0) scale(0.15455)"><polygon points="38,18 527,18 527,595 38,595" fill="#f0f0f0"/><polygon points="40,20 525,20 525,595 40,595" fill="#ffffff"/><polyline points="235,20 235,595" fill="none" stroke="#e8e8e8" stroke-width="3" stroke-linejoin="round" stroke-linecap="butt"/><polyline points="215,20 215,595" fill="none" stroke="#ededed" stroke-width="3" stroke-linejoin="round" stroke-linecap="butt"/><polyline points="40,180 215,190" fill="none" stroke="#eeeeee" stroke-width="3" stroke-linejoin="round" stroke-linecap="butt"/><polyline points="40,300 215,310" fill="none" stroke="#eeeeee" stroke-width="3" stroke-linejoin="round" stroke-linecap="butt"/><polyline points="40,430 215,440" fill="none" stroke="#eeeeee" stroke-width="3" stroke-linejoin="round" stroke-linecap="butt"/><polyline points="40,540 215,550" fill="none" stroke="#eeeeee" stroke-width="3" stroke-linejoin="round" stroke-linecap="butt"/><polyline points="150,20 150,595" fill="none" stroke="#eeeeee" stroke-width="3" stroke-linejoin="round" stroke-linecap="butt"/><polyline points="470,20 470,595" fill="none" stroke="#f0f0f0" stroke-width="3" stroke-linejoin="round" stroke-linecap="butt"/><polygon points="310,25 365,22 365,50 315,55" fill="#0a0a8a"/><polygon points="310,50 420,45 420,75 380,80 355,80 355,140 315,145" fill="#0c18ee"/><polygon points="355,78 380,78 380,95 355,95" fill="#f0306c"/><polygon points="345,150 380,150 385,190 345,190" fill="#0a0a8a"/><polygon points="315,155 345,155 350,190 440,190 440,220 400,225 400,250 315,255" fill="#0c18ee"/><polygon points="315,265 420,265 430,310 440,345 330,350 315,330" fill="#0c18ee"/><polygon points="365,305 440,305 440,335 365,340" fill="#f0306c"/><polygon points="330,335 455,340 455,360 330,355" fill="#f0306c"/><polygon points="320,360 445,360 445,390 320,390" fill="#0c18ee"/><polygon points="345,385 435,385 430,425 350,425" fill="#f0306c"/><polygon points="320,380 350,380 350,425 320,425" fill="#0c18ee"/><polygon points="320,425 375,425 375,445 325,450" fill="#3472ee"/><polygon points="330,450 430,450 430,475 330,475" fill="#0c18ee"/><polygon points="315,475 350,475 350,515 320,515" fill="#0c18ee"/><polygon points="320,515 380,515 380,545 320,545" fill="#f0306c"/><polygon points="315,545 440,550 440,595 315,595" fill="#0a0a8a"/><polygon points="330,545 360,545 360,580 330,580" fill="#0c18ee"/><polygon points="440,565 520,570 525,595 440,595" fill="#3472ee"/></g></g>
<clipPath id="c16"><rect x="185.0" y="450.0" width="85.0" height="92.0"/></clipPath>
<g clip-path="url(#c16)"><g transform="translate(185.0,450.0) scale(0.15455)"><polygon points="38,0 527,0 527,595 38,595" fill="#f0f0f0"/><polygon points="40,0 525,0 525,595 40,595" fill="#ffffff"/><polyline points="235,0 235,595" fill="none" stroke="#e8e8e8" stroke-width="3" stroke-linejoin="round" stroke-linecap="butt"/><polyline points="215,0 215,595" fill="none" stroke="#ededed" stroke-width="3" stroke-linejoin="round" stroke-linecap="butt"/><polyline points="40,100 215,110" fill="none" stroke="#eeeeee" stroke-width="3" stroke-linejoin="round" stroke-linecap="butt"/><polyline points="40,230 215,240" fill="none" stroke="#eeeeee" stroke-width="3" stroke-linejoin="round" stroke-linecap="butt"/><polyline points="40,360 215,370" fill="none" stroke="#eeeeee" stroke-width="3" stroke-linejoin="round" stroke-linecap="butt"/><polyline points="40,480 215,490" fill="none" stroke="#eeeeee" stroke-width="3" stroke-linejoin="round" stroke-linecap="butt"/><polyline points="150,0 150,595" fill="none" stroke="#eeeeee" stroke-width="3" stroke-linejoin="round" stroke-linecap="butt"/><polyline points="470,110 470,595" fill="none" stroke="#f0f0f0" stroke-width="3" stroke-linejoin="round" stroke-linecap="butt"/><polygon points="320,0 440,0 440,15 320,15" fill="#0a0a8a"/><polygon points="440,0 525,0 525,20 445,20" fill="#3472ee"/><polygon points="315,45 380,45 380,75 320,75" fill="#3472ee"/><polygon points="380,50 480,50 495,65 495,110 440,110 380,100" fill="#0a0a8a"/><polygon points="400,58 478,58 478,98 400,98" fill="#0c18ee"/><polygon points="320,75 380,75 380,145 320,150" fill="#0c18ee"/><polygon points="315,150 365,150 365,180 320,180" fill="#3472ee"/><polygon points="320,185 445,195 440,225 320,220" fill="#0a0a8a"/><polygon points="320,220 440,225 440,265 320,265" fill="#0c18ee"/><polygon points="320,265 420,265 430,290 320,290" fill="#0a0a8a"/><polygon points="320,290 410,285 440,290 440,325 420,345 320,345" fill="#0c18ee"/><polygon points="345,300 360,300 360,315 345,315" fill="#ffffff"/><polygon points="395,285 410,285 410,300 395,300" fill="#ffffff"/><polygon points="320,350 370,350 375,375 435,370 440,410 320,420" fill="#0c18ee"/><polygon points="370,350 390,350 390,375 370,375" fill="#8aa8f0"/><polygon points="320,420 365,420 365,450 320,450" fill="#0a0a8a"/><polygon points="320,450 365,450 365,490 435,490 435,520 380,525 380,540 320,540" fill="#0c18ee"/><polygon points="325,530 350,530 350,550 325,550" fill="#3472ee"/><polygon points="320,540 390,545 395,575 330,580" fill="#0c18ee"/><polygon points="320,580 360,580 360,595 320,595" fill="#0c18ee"/><polygon points="160,585 200,585 200,595 160,595" fill="#0c18ee"/></g></g>
<clipPath id="c17"><rect x="185.0" y="542.0" width="85.0" height="92.0"/></clipPath>
<g clip-path="url(#c17)"><g transform="translate(185.0,542.0) scale(0.15455)"><polygon points="38,0 527,0 527,587 38,587" fill="#f0f0f0"/><polygon points="40,0 525,0 525,585 40,585" fill="#ffffff"/><polyline points="235,0 235,585" fill="none" stroke="#e8e8e8" stroke-width="3" stroke-linejoin="round" stroke-linecap="butt"/><polyline points="215,0 215,585" fill="none" stroke="#ededed" stroke-width="3" stroke-linejoin="round" stroke-linecap="butt"/><polyline points="40,130 215,140" fill="none" stroke="#eeeeee" stroke-width="3" stroke-linejoin="round" stroke-linecap="butt"/><polyline points="40,250 215,260" fill="none" stroke="#eeeeee" stroke-width="3" stroke-linejoin="round" stroke-linecap="butt"/><polyline points="40,370 215,380" fill="none" stroke="#eeeeee" stroke-width="3" stroke-linejoin="round" stroke-linecap="butt"/><polyline points="40,480 215,490" fill="none" stroke="#eeeeee" stroke-width="3" stroke-linejoin="round" stroke-linecap="butt"/><polyline points="150,0 150,585" fill="none" stroke="#eeeeee" stroke-width="3" stroke-linejoin="round" stroke-linecap="butt"/><polyline points="470,0 470,585" fill="none" stroke="#f0f0f0" stroke-width="3" stroke-linejoin="round" stroke-linecap="butt"/><polygon points="165,0 230,0 230,55 215,60 210,100 125,95 130,60 165,55" fill="#0c18ee"/><polygon points="325,0 350,0 350,10 325,10" fill="#0a0a8a"/><polygon points="325,15 345,15 345,60 325,60" fill="#8aa8f0"/><polygon points="345,12 420,12 420,60 345,60" fill="#3472ee"/><polygon points="325,65 400,65 405,145 325,145" fill="#0c18ee"/><polygon points="330,160 395,160 395,220 330,220" fill="#0c18ee"/><polygon points="330,220 430,220 430,270 330,270" fill="#0a0a8a"/><polygon points="330,270 385,270 385,315 330,315" fill="#0a0a8a"/><polygon points="350,315 440,320 440,355 350,355" fill="#0c18ee"/><polygon points="330,318 350,318 350,350 330,350" fill="#f0306c"/><polygon points="330,355 365,355 365,390 330,390" fill="#8aa8f0"/><polygon points="365,355 430,355 430,395 365,395" fill="#0c18ee"/><polygon points="330,395 430,395 430,430 330,430" fill="#0a0a8a"/><polygon points="330,430 400,430 400,470 415,470 420,520 330,520" fill="#0c18ee"/><polygon points="330,520 420,520 420,550 335,550" fill="#3472ee"/><polygon points="340,545 420,545 420,580 340,580" fill="#0c18ee"/></g></g>
<text x="3" y="10.3" font-size="8.7" fill="#111" font-weight="bold" text-anchor="start" >INCREMENTALITY</text><text x="40" y="30.6" font-size="6.35" fill="#111" font-weight="bold" text-anchor="middle" >SAN COSME</text><text x="136" y="30.6" font-size="6.42" fill="#111" font-weight="bold" text-anchor="middle" >VILLA RODOLFO RICCIARDELLI</text><text x="227.4" y="30.6" font-size="6.4" fill="#111" font-weight="bold" text-anchor="middle" >VILA HELIOPOLIS</text><text x="3" y="49.5" font-size="9.9" fill="#111" font-weight="bold" text-anchor="start" >a. INNER</text><text x="3.3" y="354.3" font-size="10.1" fill="#111" font-weight="bold" text-anchor="start" >b. OUTER</text><line x1="307.3" y1="56.7" x2="307.3" y2="327.6" stroke="#e6e6e6" stroke-width="0.8"/><line x1="366.3" y1="56.7" x2="366.3" y2="327.6" stroke="#dcdcdc" stroke-width="0.8"/><line x1="425.6" y1="56.7" x2="425.6" y2="327.6" stroke="#dcdcdc" stroke-width="0.8"/><line x1="484.4" y1="56.7" x2="484.4" y2="327.6" stroke="#dcdcdc" stroke-width="0.8"/><line x1="307.3" y1="327.6" x2="543" y2="327.6" stroke="#eeeeee" stroke-width="0.8"/><line x1="295" y1="56.7" x2="543" y2="56.7" stroke="#ececec" stroke-width="0.8"/><line x1="297" y1="293.6" x2="543" y2="293.6" stroke="#f0f0f0" stroke-width="0.8"/><line x1="297" y1="79.8" x2="306" y2="79.8" stroke="#f0f0f0" stroke-width="0.8"/><line x1="297" y1="103.6" x2="306" y2="103.6" stroke="#f0f0f0" stroke-width="0.8"/><line x1="297" y1="127.3" x2="306" y2="127.3" stroke="#f0f0f0" stroke-width="0.8"/><line x1="297" y1="151.1" x2="306" y2="151.1" stroke="#f0f0f0" stroke-width="0.8"/><line x1="297" y1="174.8" x2="306" y2="174.8" stroke="#f0f0f0" stroke-width="0.8"/><line x1="297" y1="198.6" x2="306" y2="198.6" stroke="#f0f0f0" stroke-width="0.8"/><line x1="297" y1="222.3" x2="306" y2="222.3" stroke="#f0f0f0" stroke-width="0.8"/><line x1="297" y1="246.1" x2="306" y2="246.1" stroke="#f0f0f0" stroke-width="0.8"/><line x1="297" y1="269.9" x2="306" y2="269.9" stroke="#f0f0f0" stroke-width="0.8"/><text x="277.5" y="47.6" font-size="9.4" fill="#222" font-weight="normal" text-anchor="start" >(%)</text><text x="277.3" y="59.300000000000004" font-size="8.3" fill="#222" font-weight="normal" text-anchor="start" >100</text><text x="283.8" y="177.85" font-size="8.1" fill="#222" font-weight="normal" text-anchor="start" >50</text><text x="283.6" y="296.70000000000005" font-size="8.3" fill="#222" font-weight="normal" text-anchor="start" >0</text><text x="274.6" y="311.3" font-size="8.8" fill="#222" font-weight="normal" text-anchor="start" >Levels</text><text x="311.5" y="309.5" font-size="5.0" fill="#7ab0ff" font-weight="normal" text-anchor="middle" >0</text><rect x="316.20" y="304.1" width="7.0" height="7.3" fill="#f4f6ff" stroke="#b8c8ff" stroke-width="0.8"/><text x="319.70" y="309.50" font-size="5.0" fill="#b8c4f4" font-weight="normal" text-anchor="middle" >1</text><rect x="324.75" y="304.1" width="7.0" height="7.3" fill="#e8eeff" stroke="#7090ff" stroke-width="0.8"/><text x="328.25" y="309.50" font-size="5.0" fill="#6a80f0" font-weight="normal" text-anchor="middle" >2</text><rect x="333.30" y="304.1" width="7.0" height="7.3" fill="#e2e2ff" stroke="#4848ff" stroke-width="0.8"/><text x="336.80" y="309.50" font-size="5.0" fill="#4a4ae0" font-weight="normal" text-anchor="middle" >3</text><rect x="341.85" y="304.1" width="7.0" height="7.3" fill="#e2e2f0" stroke="#3a3a9a" stroke-width="0.8"/><text x="345.35" y="309.50" font-size="5.0" fill="#40409a" font-weight="normal" text-anchor="middle" >4</text><rect x="350.40" y="304.1" width="7.0" height="7.3" fill="#eeeef0" stroke="#606070" stroke-width="0.8"/><text x="353.90" y="309.50" font-size="5.0" fill="#505060" font-weight="normal" text-anchor="middle" >5</text><rect x="358.95" y="304.1" width="7.0" height="7.3" fill="#e6e6e6" stroke="#505050" stroke-width="0.8"/><text x="362.45" y="309.50" font-size="5.0" fill="#484848" font-weight="normal" text-anchor="middle" >6</text><rect x="375.50" y="304.1" width="7.0" height="7.3" fill="#fff2f8" stroke="#ffc4dc" stroke-width="0.8"/><text x="379.00" y="309.50" font-size="5.0" fill="#ffb8d4" font-weight="normal" text-anchor="middle" >1</text><rect x="383.90" y="304.1" width="7.0" height="7.3" fill="#ffeaf4" stroke="#ff98c4" stroke-width="0.8"/><text x="387.40" y="309.50" font-size="5.0" fill="#ff88b8" font-weight="normal" text-anchor="middle" >2</text><rect x="392.30" y="304.1" width="7.0" height="7.3" fill="#ffe2ee" stroke="#ff68a8" stroke-width="0.8"/><text x="395.80" y="309.50" font-size="5.0" fill="#ff5898" font-weight="normal" text-anchor="middle" >3</text><rect x="400.70" y="304.1" width="7.0" height="7.3" fill="#ffe0ec" stroke="#f04888" stroke-width="0.8"/><text x="404.20" y="309.50" font-size="5.0" fill="#e83878" font-weight="normal" text-anchor="middle" >4</text><rect x="409.10" y="304.1" width="7.0" height="7.3" fill="#f8e0e8" stroke="#c04868" stroke-width="0.8"/><text x="412.60" y="309.50" font-size="5.0" fill="#b03858" font-weight="normal" text-anchor="middle" >5</text><rect x="434.90" y="304.1" width="7.0" height="7.3" fill="#fdf2fd" stroke="#f8d0f8" stroke-width="0.8"/><text x="438.40" y="309.50" font-size="5.0" fill="#f4c4f4" font-weight="normal" text-anchor="middle" >1</text><rect x="443.35" y="304.1" width="7.0" height="7.3" fill="#fceafc" stroke="#f4b0f4" stroke-width="0.8"/><text x="446.85" y="309.50" font-size="5.0" fill="#eea4ee" font-weight="normal" text-anchor="middle" >2</text><rect x="451.80" y="304.1" width="7.0" height="7.3" fill="#f8dcfc" stroke="#e060f0" stroke-width="0.8"/><text x="455.30" y="309.50" font-size="5.0" fill="#d850e8" font-weight="normal" text-anchor="middle" >3</text><rect x="460.25" y="304.1" width="7.0" height="7.3" fill="#f0e2f8" stroke="#b060d0" stroke-width="0.8"/><text x="463.75" y="309.50" font-size="5.0" fill="#a050c8" font-weight="normal" text-anchor="middle" >4</text><rect x="468.70" y="304.1" width="7.0" height="7.3" fill="#ebe2ee" stroke="#806090" stroke-width="0.8"/><text x="472.20" y="309.50" font-size="5.0" fill="#705080" font-weight="normal" text-anchor="middle" >5</text><rect x="477.15" y="304.1" width="7.0" height="7.3" fill="#e0e0e0" stroke="#606060" stroke-width="0.8"/><text x="480.65" y="309.50" font-size="5.0" fill="#707070" font-weight="normal" text-anchor="middle" >6</text><rect x="494.40" y="304.1" width="7.0" height="7.3" fill="#fffaf0" stroke="#ffe8c0" stroke-width="0.8"/><text x="497.90" y="309.50" font-size="5.0" fill="#ffe0b0" font-weight="normal" text-anchor="middle" >1</text><rect x="502.80" y="304.1" width="7.0" height="7.3" fill="#fff6e4" stroke="#ffd890" stroke-width="0.8"/><text x="506.30" y="309.50" font-size="5.0" fill="#ffcc80" font-weight="normal" text-anchor="middle" >2</text><rect x="511.20" y="304.1" width="7.0" height="7.3" fill="#fff2dc" stroke="#f8c060" stroke-width="0.8"/><text x="514.70" y="309.50" font-size="5.0" fill="#f0b050" font-weight="normal" text-anchor="middle" >3</text><rect x="519.60" y="304.1" width="7.0" height="7.3" fill="#fdeedd" stroke="#f0b080" stroke-width="0.8"/><text x="523.10" y="309.50" font-size="5.0" fill="#e89050" font-weight="normal" text-anchor="middle" >4</text><rect x="528.00" y="304.1" width="7.0" height="7.3" fill="#f2ebe4" stroke="#b09070" stroke-width="0.8"/><text x="531.50" y="309.50" font-size="5.0" fill="#907050" font-weight="normal" text-anchor="middle" >5</text><rect x="536.40" y="304.1" width="7.0" height="7.3" fill="#dcd4cc" stroke="#807060" stroke-width="0.8"/><text x="539.90" y="309.50" font-size="5.0" fill="#806a5a" font-weight="normal" text-anchor="middle" >6</text><text x="337" y="320.6" font-size="5.45" fill="#333" font-weight="normal" text-anchor="middle" >Housing (Permanent)</text><text x="396" y="320.6" font-size="5.5" fill="#333" font-weight="normal" text-anchor="middle" >Housing (Temporal)</text><text x="455" y="320.6" font-size="5.6" fill="#333" font-weight="normal" text-anchor="middle" >Social Housing</text><text x="514.5" y="320.6" font-size="5.65" fill="#333" font-weight="normal" text-anchor="middle" >Infraestructure</text><line x1="307.3" y1="361.40000000000003" x2="307.3" y2="632.3" stroke="#e6e6e6" stroke-width="0.8"/><line x1="366.3" y1="361.40000000000003" x2="366.3" y2="632.3" stroke="#dcdcdc" stroke-width="0.8"/><line x1="425.6" y1="361.40000000000003" x2="425.6" y2="632.3" stroke="#dcdcdc" stroke-width="0.8"/><line x1="484.4" y1="361.40000000000003" x2="484.4" y2="632.3" stroke="#dcdcdc" stroke-width="0.8"/><line x1="307.3" y1="632.3" x2="543" y2="632.3" stroke="#eeeeee" stroke-width="0.8"/><line x1="295" y1="361.40000000000003" x2="543" y2="361.40000000000003" stroke="#ececec" stroke-width="0.8"/><line x1="297" y1="598.3" x2="543" y2="598.3" stroke="#f0f0f0" stroke-width="0.8"/><line x1="297" y1="384.6" x2="306" y2="384.6" stroke="#f0f0f0" stroke-width="0.8"/><line x1="297" y1="408.3" x2="306" y2="408.3" stroke="#f0f0f0" stroke-width="0.8"/><line x1="297" y1="432.1" x2="306" y2="432.1" stroke="#f0f0f0" stroke-width="0.8"/><line x1="297" y1="455.8" x2="306" y2="455.8" stroke="#f0f0f0" stroke-width="0.8"/><line x1="297" y1="479.6" x2="306" y2="479.6" stroke="#f0f0f0" stroke-width="0.8"/><line x1="297" y1="503.3" x2="306" y2="503.3" stroke="#f0f0f0" stroke-width="0.8"/><line x1="297" y1="527.0" x2="306" y2="527.0" stroke="#f0f0f0" stroke-width="0.8"/><line x1="297" y1="550.8" x2="306" y2="550.8" stroke="#f0f0f0" stroke-width="0.8"/><line x1="297" y1="574.5" x2="306" y2="574.5" stroke="#f0f0f0" stroke-width="0.8"/><text x="277.5" y="352.3" font-size="9.4" fill="#222" font-weight="normal" text-anchor="start" >(%)</text><text x="277.3" y="364.0" font-size="8.3" fill="#222" font-weight="normal" text-anchor="start" >100</text><text x="283.8" y="482.55" font-size="8.1" fill="#222" font-weight="normal" text-anchor="start" >50</text><text x="283.6" y="601.4" font-size="8.3" fill="#222" font-weight="normal" text-anchor="start" >0</text><text x="274.6" y="616.0" font-size="8.8" fill="#222" font-weight="normal" text-anchor="start" >Levels</text><text x="311.5" y="614.1999999999999" font-size="5.0" fill="#7ab0ff" font-weight="normal" text-anchor="middle" >0</text><rect x="316.20" y="608.8" width="7.0" height="7.3" fill="#f4f6ff" stroke="#b8c8ff" stroke-width="0.8"/><text x="319.70" y="614.20" font-size="5.0" fill="#b8c4f4" font-weight="normal" text-anchor="middle" >1</text><rect x="324.75" y="608.8" width="7.0" height="7.3" fill="#e8eeff" stroke="#7090ff" stroke-width="0.8"/><text x="328.25" y="614.20" font-size="5.0" fill="#6a80f0" font-weight="normal" text-anchor="middle" >2</text><rect x="333.30" y="608.8" width="7.0" height="7.3" fill="#e2e2ff" stroke="#4848ff" stroke-width="0.8"/><text x="336.80" y="614.20" font-size="5.0" fill="#4a4ae0" font-weight="normal" text-anchor="middle" >3</text><rect x="341.85" y="608.8" width="7.0" height="7.3" fill="#e2e2f0" stroke="#3a3a9a" stroke-width="0.8"/><text x="345.35" y="614.20" font-size="5.0" fill="#40409a" font-weight="normal" text-anchor="middle" >4</text><rect x="350.40" y="608.8" width="7.0" height="7.3" fill="#eeeef0" stroke="#606070" stroke-width="0.8"/><text x="353.90" y="614.20" font-size="5.0" fill="#505060" font-weight="normal" text-anchor="middle" >5</text><rect x="358.95" y="608.8" width="7.0" height="7.3" fill="#e6e6e6" stroke="#505050" stroke-width="0.8"/><text x="362.45" y="614.20" font-size="5.0" fill="#484848" font-weight="normal" text-anchor="middle" >6</text><rect x="375.50" y="608.8" width="7.0" height="7.3" fill="#fff2f8" stroke="#ffc4dc" stroke-width="0.8"/><text x="379.00" y="614.20" font-size="5.0" fill="#ffb8d4" font-weight="normal" text-anchor="middle" >1</text><rect x="383.90" y="608.8" width="7.0" height="7.3" fill="#ffeaf4" stroke="#ff98c4" stroke-width="0.8"/><text x="387.40" y="614.20" font-size="5.0" fill="#ff88b8" font-weight="normal" text-anchor="middle" >2</text><rect x="392.30" y="608.8" width="7.0" height="7.3" fill="#ffe2ee" stroke="#ff68a8" stroke-width="0.8"/><text x="395.80" y="614.20" font-size="5.0" fill="#ff5898" font-weight="normal" text-anchor="middle" >3</text><rect x="400.70" y="608.8" width="7.0" height="7.3" fill="#ffe0ec" stroke="#f04888" stroke-width="0.8"/><text x="404.20" y="614.20" font-size="5.0" fill="#e83878" font-weight="normal" text-anchor="middle" >4</text><rect x="409.10" y="608.8" width="7.0" height="7.3" fill="#f8e0e8" stroke="#c04868" stroke-width="0.8"/><text x="412.60" y="614.20" font-size="5.0" fill="#b03858" font-weight="normal" text-anchor="middle" >5</text><rect x="434.90" y="608.8" width="7.0" height="7.3" fill="#fdf2fd" stroke="#f8d0f8" stroke-width="0.8"/><text x="438.40" y="614.20" font-size="5.0" fill="#f4c4f4" font-weight="normal" text-anchor="middle" >1</text><rect x="443.35" y="608.8" width="7.0" height="7.3" fill="#fceafc" stroke="#f4b0f4" stroke-width="0.8"/><text x="446.85" y="614.20" font-size="5.0" fill="#eea4ee" font-weight="normal" text-anchor="middle" >2</text><rect x="451.80" y="608.8" width="7.0" height="7.3" fill="#f8dcfc" stroke="#e060f0" stroke-width="0.8"/><text x="455.30" y="614.20" font-size="5.0" fill="#d850e8" font-weight="normal" text-anchor="middle" >3</text><rect x="460.25" y="608.8" width="7.0" height="7.3" fill="#f0e2f8" stroke="#b060d0" stroke-width="0.8"/><text x="463.75" y="614.20" font-size="5.0" fill="#a050c8" font-weight="normal" text-anchor="middle" >4</text><rect x="468.70" y="608.8" width="7.0" height="7.3" fill="#ebe2ee" stroke="#806090" stroke-width="0.8"/><text x="472.20" y="614.20" font-size="5.0" fill="#705080" font-weight="normal" text-anchor="middle" >5</text><rect x="477.15" y="608.8" width="7.0" height="7.3" fill="#e0e0e0" stroke="#606060" stroke-width="0.8"/><text x="480.65" y="614.20" font-size="5.0" fill="#707070" font-weight="normal" text-anchor="middle" >6</text><rect x="494.40" y="608.8" width="7.0" height="7.3" fill="#fffaf0" stroke="#ffe8c0" stroke-width="0.8"/><text x="497.90" y="614.20" font-size="5.0" fill="#ffe0b0" font-weight="normal" text-anchor="middle" >1</text><rect x="502.80" y="608.8" width="7.0" height="7.3" fill="#fff6e4" stroke="#ffd890" stroke-width="0.8"/><text x="506.30" y="614.20" font-size="5.0" fill="#ffcc80" font-weight="normal" text-anchor="middle" >2</text><rect x="511.20" y="608.8" width="7.0" height="7.3" fill="#fff2dc" stroke="#f8c060" stroke-width="0.8"/><text x="514.70" y="614.20" font-size="5.0" fill="#f0b050" font-weight="normal" text-anchor="middle" >3</text><rect x="519.60" y="608.8" width="7.0" height="7.3" fill="#fdeedd" stroke="#f0b080" stroke-width="0.8"/><text x="523.10" y="614.20" font-size="5.0" fill="#e89050" font-weight="normal" text-anchor="middle" >4</text><rect x="528.00" y="608.8" width="7.0" height="7.3" fill="#f2ebe4" stroke="#b09070" stroke-width="0.8"/><text x="531.50" y="614.20" font-size="5.0" fill="#907050" font-weight="normal" text-anchor="middle" >5</text><rect x="536.40" y="608.8" width="7.0" height="7.3" fill="#dcd4cc" stroke="#807060" stroke-width="0.8"/><text x="539.90" y="614.20" font-size="5.0" fill="#806a5a" font-weight="normal" text-anchor="middle" >6</text><text x="337" y="625.3" font-size="5.45" fill="#333" font-weight="normal" text-anchor="middle" >Housing (Permanent)</text><text x="396" y="625.3" font-size="5.5" fill="#333" font-weight="normal" text-anchor="middle" >Housing (Temporal)</text><text x="455" y="625.3" font-size="5.6" fill="#333" font-weight="normal" text-anchor="middle" >Social Housing</text><text x="514.5" y="625.3" font-size="5.65" fill="#333" font-weight="normal" text-anchor="middle" >Infraestructure</text><line x1="311.5" y1="293.6" x2="311.5" y2="273.4" stroke="#ff2a2a" stroke-width="0.9"/><circle cx="311.5" cy="273.4" r="0.95" fill="#ff2a2a"/><text x="311.5" y="271.71250000000003" font-size="3.7" fill="#ff2a2a" font-weight="normal" text-anchor="middle" >8.45</text><line x1="320.0" y1="293.6" x2="320.0" y2="272.7" stroke="#ff2a2a" stroke-width="0.9"/><circle cx="320.0" cy="272.7" r="0.95" fill="#ff2a2a"/><line x1="320.0" y1="293.6" x2="320.0" y2="288.1" stroke="#222" stroke-width="0.9"/><circle cx="320.0" cy="288.1" r="0.95" fill="#222"/><line x1="320.0" y1="293.6" x2="320.0" y2="288.6" stroke="#2a2aff" stroke-width="0.9"/><circle cx="320.0" cy="288.6" r="0.95" fill="#2a2aff"/><text x="320.0" y="263.00000000000006" font-size="3.7" fill="#ff2a2a" font-weight="normal" text-anchor="middle" >9.65</text><text x="320.0" y="267.00000000000006" font-size="3.7" fill="#222" font-weight="normal" text-anchor="middle" >2.15</text><text x="320.0" y="271.00000000000006" font-size="3.7" fill="#2a2aff" font-weight="normal" text-anchor="middle" >1.93</text><line x1="328.4" y1="293.6" x2="328.4" y2="224.7" stroke="#ff2a2a" stroke-width="0.9"/><circle cx="328.4" cy="224.7" r="0.95" fill="#ff2a2a"/><line x1="328.4" y1="293.6" x2="328.4" y2="275.1" stroke="#222" stroke-width="0.9"/><circle cx="328.4" cy="275.1" r="0.95" fill="#222"/><line x1="328.4" y1="293.6" x2="328.4" y2="285.3" stroke="#2a2aff" stroke-width="0.9"/><circle cx="328.4" cy="285.3" r="0.95" fill="#2a2aff"/><text x="328.4" y="215.02500000000003" font-size="3.7" fill="#ff2a2a" font-weight="normal" text-anchor="middle" >28.86</text><text x="328.4" y="219.02500000000003" font-size="3.7" fill="#222" font-weight="normal" text-anchor="middle" >7.71</text><text x="328.4" y="223.02500000000003" font-size="3.7" fill="#2a2aff" font-weight="normal" text-anchor="middle" >3.41</text><line x1="336.8" y1="293.6" x2="336.8" y2="200.5" stroke="#ff2a2a" stroke-width="0.9"/><circle cx="336.8" cy="200.5" r="0.95" fill="#ff2a2a"/><line x1="336.8" y1="293.6" x2="336.8" y2="285.1" stroke="#2a2aff" stroke-width="0.9"/><circle cx="336.8" cy="285.1" r="0.95" fill="#2a2aff"/><line x1="336.8" y1="293.6" x2="336.8" y2="285.3" stroke="#222" stroke-width="0.9"/><circle cx="336.8" cy="285.3" r="0.95" fill="#222"/><text x="336.8" y="190.8" font-size="3.7" fill="#ff2a2a" font-weight="normal" text-anchor="middle" >39.21</text><text x="336.8" y="194.8" font-size="3.7" fill="#2a2aff" font-weight="normal" text-anchor="middle" >3.53</text><text x="336.8" y="198.8" font-size="3.7" fill="#222" font-weight="normal" text-anchor="middle" >3.51</text><line x1="345.2" y1="293.6" x2="345.2" y2="277.5" stroke="#ff2a2a" stroke-width="0.9"/><circle cx="345.2" cy="277.5" r="0.95" fill="#ff2a2a"/><line x1="345.2" y1="293.6" x2="345.2" y2="288.1" stroke="#2a2aff" stroke-width="0.9"/><circle cx="345.2" cy="288.1" r="0.95" fill="#2a2aff"/><line x1="345.2" y1="293.6" x2="345.2" y2="290.5" stroke="#222" stroke-width="0.9"/><circle cx="345.2" cy="290.5" r="0.95" fill="#222"/><text x="345.2" y="267.75000000000006" font-size="3.7" fill="#2a2aff" font-weight="normal" text-anchor="middle" >2.17</text><text x="345.2" y="271.75000000000006" font-size="3.7" fill="#ff2a2a" font-weight="normal" text-anchor="middle" >4.70</text><text x="345.2" y="275.75000000000006" font-size="3.7" fill="#222" font-weight="normal" text-anchor="middle" >1.26</text><line x1="353.8" y1="293.6" x2="353.8" y2="277.2" stroke="#222" stroke-width="0.9"/><circle cx="353.8" cy="277.2" r="0.95" fill="#222"/><line x1="353.8" y1="293.6" x2="353.8" y2="289.6" stroke="#ff2a2a" stroke-width="0.9"/><circle cx="353.8" cy="289.6" r="0.95" fill="#ff2a2a"/><text x="353.8" y="271.51250000000005" font-size="3.7" fill="#222" font-weight="normal" text-anchor="middle" >6.93</text><text x="353.8" y="275.51250000000005" font-size="3.7" fill="#ff2a2a" font-weight="normal" text-anchor="middle" >1.55</text><line x1="379.3" y1="293.6" x2="379.3" y2="267.5" stroke="#2a2aff" stroke-width="0.9"/><circle cx="379.3" cy="267.5" r="0.95" fill="#2a2aff"/><line x1="379.3" y1="293.6" x2="379.3" y2="282.4" stroke="#ff2a2a" stroke-width="0.9"/><circle cx="379.3" cy="282.4" r="0.95" fill="#ff2a2a"/><line x1="379.3" y1="293.6" x2="379.3" y2="289.6" stroke="#222" stroke-width="0.9"/><circle cx="379.3" cy="289.6" r="0.95" fill="#222"/><text x="379.3" y="257.77500000000003" font-size="3.7" fill="#2a2aff" font-weight="normal" text-anchor="middle" >10.88</text><text x="379.3" y="261.77500000000003" font-size="3.7" fill="#ff2a2a" font-weight="normal" text-anchor="middle" >5.05</text><text x="379.3" y="265.77500000000003" font-size="3.7" fill="#222" font-weight="normal" text-anchor="middle" >1.38</text><line x1="387.7" y1="293.6" x2="387.7" y2="289.1" stroke="#ff2a2a" stroke-width="0.9"/><circle cx="387.7" cy="289.1" r="0.95" fill="#ff2a2a"/><line x1="387.7" y1="293.6" x2="387.7" y2="291.9" stroke="#2a2aff" stroke-width="0.9"/><circle cx="387.7" cy="291.9" r="0.95" fill="#2a2aff"/><text x="387.2" y="283.3" font-size="3.7" fill="#ff2a2a" font-weight="normal" text-anchor="middle" >1.92</text><text x="387.2" y="287.3" font-size="3.7" fill="#2a2aff" font-weight="normal" text-anchor="middle" >0.65</text><line x1="396.0" y1="293.6" x2="396.0" y2="289.3" stroke="#ff2a2a" stroke-width="0.9"/><circle cx="396.0" cy="289.3" r="0.95" fill="#ff2a2a"/><line x1="396.0" y1="293.6" x2="396.0" y2="291.0" stroke="#2a2aff" stroke-width="0.9"/><circle cx="396.0" cy="291.0" r="0.95" fill="#2a2aff"/><line x1="396.0" y1="293.6" x2="396.0" y2="291.2" stroke="#222" stroke-width="0.9"/><circle cx="396.0" cy="291.2" r="0.95" fill="#222"/><text x="396.3" y="279.8" font-size="3.7" fill="#ff2a2a" font-weight="normal" text-anchor="middle" >1.70</text><text x="396.3" y="283.8" font-size="3.7" fill="#2a2aff" font-weight="normal" text-anchor="middle" >1.12</text><text x="396.3" y="287.8" font-size="3.7" fill="#222" font-weight="normal" text-anchor="middle" >1.06</text><line x1="404.5" y1="293.6" x2="404.5" y2="292.9" stroke="#2a2aff" stroke-width="0.9"/><circle cx="404.5" cy="292.9" r="0.95" fill="#2a2aff"/><text x="404.5" y="291.3" font-size="3.7" fill="#2a2aff" font-weight="normal" text-anchor="middle" >0.26</text><line x1="463.6" y1="293.6" x2="463.6" y2="256.1" stroke="#222" stroke-width="0.9"/><circle cx="463.6" cy="256.1" r="0.95" fill="#222"/><line x1="463.6" y1="293.6" x2="463.6" y2="275.1" stroke="#2a2aff" stroke-width="0.9"/><circle cx="463.6" cy="275.1" r="0.95" fill="#2a2aff"/><text x="463.6" y="250.37500000000006" font-size="3.7" fill="#222" font-weight="normal" text-anchor="middle" >15.72</text><text x="463.6" y="254.37500000000006" font-size="3.7" fill="#2a2aff" font-weight="normal" text-anchor="middle" >7.85</text><line x1="472.0" y1="293.6" x2="472.0" y2="288.5" stroke="#2a2aff" stroke-width="0.9"/><circle cx="472.0" cy="288.5" r="0.95" fill="#2a2aff"/><text x="472.0" y="286.79375000000005" font-size="3.7" fill="#2a2aff" font-weight="normal" text-anchor="middle" >2.15</text><line x1="480.5" y1="293.6" x2="480.5" y2="278.6" stroke="#2a2aff" stroke-width="0.9"/><circle cx="480.5" cy="278.6" r="0.95" fill="#2a2aff"/><text x="480.5" y="276.93750000000006" font-size="3.7" fill="#2a2aff" font-weight="normal" text-anchor="middle" >6.30</text><line x1="497.7" y1="293.6" x2="497.7" y2="282.9" stroke="#222" stroke-width="0.9"/><circle cx="497.7" cy="282.9" r="0.95" fill="#222"/><text x="497.7" y="281.21250000000003" font-size="3.7" fill="#222" font-weight="normal" text-anchor="middle" >4.53</text><line x1="311.6" y1="598.3" x2="311.6" y2="592.8" stroke="#ff2a2a" stroke-width="0.9"/><circle cx="311.6" cy="592.8" r="0.95" fill="#ff2a2a"/><text x="311.6" y="591.1374999999999" font-size="3.7" fill="#ff2a2a" font-weight="normal" text-anchor="middle" >2.32</text><line x1="320.2" y1="598.3" x2="320.2" y2="587.8" stroke="#ff2a2a" stroke-width="0.9"/><circle cx="320.2" cy="587.8" r="0.95" fill="#ff2a2a"/><line x1="320.2" y1="598.3" x2="320.2" y2="589.4" stroke="#222" stroke-width="0.9"/><circle cx="320.2" cy="589.4" r="0.95" fill="#222"/><line x1="320.2" y1="598.3" x2="320.2" y2="596.8" stroke="#2a2aff" stroke-width="0.9"/><circle cx="320.2" cy="596.8" r="0.95" fill="#2a2aff"/><text x="320.2" y="578.1499999999999" font-size="3.7" fill="#ff2a2a" font-weight="normal" text-anchor="middle" >4.41</text><text x="320.2" y="582.1499999999999" font-size="3.7" fill="#222" font-weight="normal" text-anchor="middle" >3.75</text><text x="320.2" y="586.1499999999999" font-size="3.7" fill="#2a2aff" font-weight="normal" text-anchor="middle" >0.65</text><line x1="328.6" y1="598.3" x2="328.6" y2="565.5" stroke="#ff2a2a" stroke-width="0.9"/><circle cx="328.6" cy="565.5" r="0.95" fill="#ff2a2a"/><line x1="328.6" y1="598.3" x2="328.6" y2="590.9" stroke="#2a2aff" stroke-width="0.9"/><circle cx="328.6" cy="590.9" r="0.95" fill="#2a2aff"/><line x1="328.6" y1="598.3" x2="328.6" y2="590.9" stroke="#222" stroke-width="0.9"/><circle cx="328.6" cy="590.9" r="0.95" fill="#222"/><text x="328.6" y="555.8249999999999" font-size="3.7" fill="#ff2a2a" font-weight="normal" text-anchor="middle" >13.75</text><text x="328.6" y="559.8249999999999" font-size="3.7" fill="#2a2aff" font-weight="normal" text-anchor="middle" >5.95</text><text x="328.6" y="563.8249999999999" font-size="3.7" fill="#222" font-weight="normal" text-anchor="middle" >3.10</text><line x1="336.8" y1="598.3" x2="336.8" y2="541.5" stroke="#ff2a2a" stroke-width="0.9"/><circle cx="336.8" cy="541.5" r="0.95" fill="#ff2a2a"/><line x1="336.8" y1="598.3" x2="336.8" y2="565.3" stroke="#222" stroke-width="0.9"/><circle cx="336.8" cy="565.3" r="0.95" fill="#222"/><line x1="336.8" y1="598.3" x2="336.8" y2="584.5" stroke="#2a2aff" stroke-width="0.9"/><circle cx="336.8" cy="584.5" r="0.95" fill="#2a2aff"/><text x="336.8" y="531.8374999999999" font-size="3.7" fill="#ff2a2a" font-weight="normal" text-anchor="middle" >23.90</text><text x="336.8" y="535.8374999999999" font-size="3.7" fill="#222" font-weight="normal" text-anchor="middle" >10.91</text><text x="336.8" y="539.8374999999999" font-size="3.7" fill="#2a2aff" font-weight="normal" text-anchor="middle" >5.68</text><line x1="345.3" y1="598.3" x2="345.3" y2="562.0" stroke="#ff2a2a" stroke-width="0.9"/><circle cx="345.3" cy="562.0" r="0.95" fill="#ff2a2a"/><line x1="345.3" y1="598.3" x2="345.3" y2="583.1" stroke="#222" stroke-width="0.9"/><circle cx="345.3" cy="583.1" r="0.95" fill="#222"/><line x1="345.3" y1="598.3" x2="345.3" y2="588.8" stroke="#2a2aff" stroke-width="0.9"/><circle cx="345.3" cy="588.8" r="0.95" fill="#2a2aff"/><text x="345.3" y="552.2624999999999" font-size="3.7" fill="#ff2a2a" font-weight="normal" text-anchor="middle" >14.98</text><text x="345.3" y="556.2624999999999" font-size="3.7" fill="#222" font-weight="normal" text-anchor="middle" >6.28</text><text x="345.3" y="560.2624999999999" font-size="3.7" fill="#2a2aff" font-weight="normal" text-anchor="middle" >3.94</text><line x1="353.8" y1="598.3" x2="353.8" y2="581.9" stroke="#ff2a2a" stroke-width="0.9"/><circle cx="353.8" cy="581.9" r="0.95" fill="#ff2a2a"/><line x1="353.8" y1="598.3" x2="353.8" y2="593.3" stroke="#222" stroke-width="0.9"/><circle cx="353.8" cy="593.3" r="0.95" fill="#222"/><line x1="353.8" y1="598.3" x2="353.8" y2="593.8" stroke="#2a2aff" stroke-width="0.9"/><circle cx="353.8" cy="593.8" r="0.95" fill="#2a2aff"/><text x="353.8" y="572.2124999999999" font-size="3.7" fill="#222" font-weight="normal" text-anchor="middle" >1.88</text><text x="353.8" y="576.2124999999999" font-size="3.7" fill="#2a2aff" font-weight="normal" text-anchor="middle" >1.88</text><text x="353.8" y="580.2124999999999" font-size="3.7" fill="#ff2a2a" font-weight="normal" text-anchor="middle" >6.92</text><line x1="379.3" y1="598.3" x2="379.3" y2="589.5" stroke="#222" stroke-width="0.9"/><circle cx="379.3" cy="589.5" r="0.95" fill="#222"/><line x1="379.3" y1="598.3" x2="379.3" y2="595.2" stroke="#ff2a2a" stroke-width="0.9"/><circle cx="379.3" cy="595.2" r="0.95" fill="#ff2a2a"/><line x1="379.3" y1="598.3" x2="379.3" y2="597.8" stroke="#2a2aff" stroke-width="0.9"/><circle cx="379.3" cy="597.8" r="0.95" fill="#2a2aff"/><text x="379.3" y="579.8124999999999" font-size="3.7" fill="#ff2a2a" font-weight="normal" text-anchor="middle" >1.31</text><text x="379.3" y="583.8124999999999" font-size="3.7" fill="#222" font-weight="normal" text-anchor="middle" >1.56</text><text x="379.3" y="587.8124999999999" font-size="3.7" fill="#2a2aff" font-weight="normal" text-anchor="middle" >0.16</text><line x1="387.7" y1="598.3" x2="387.7" y2="582.4" stroke="#ff2a2a" stroke-width="0.9"/><circle cx="387.7" cy="582.4" r="0.95" fill="#ff2a2a"/><line x1="387.7" y1="598.3" x2="387.7" y2="597.3" stroke="#222" stroke-width="0.9"/><circle cx="387.7" cy="597.3" r="0.95" fill="#222"/><text x="387.7" y="576.6874999999999" font-size="3.7" fill="#ff2a2a" font-weight="normal" text-anchor="middle" >6.91</text><text x="387.7" y="580.6874999999999" font-size="3.7" fill="#2a2aff" font-weight="normal" text-anchor="middle" >0.40</text><line x1="396.0" y1="598.3" x2="396.0" y2="594.0" stroke="#ff2a2a" stroke-width="0.9"/><circle cx="396.0" cy="594.0" r="0.95" fill="#ff2a2a"/><line x1="396.0" y1="598.3" x2="396.0" y2="595.7" stroke="#222" stroke-width="0.9"/><circle cx="396.0" cy="595.7" r="0.95" fill="#222"/><line x1="396.0" y1="598.3" x2="396.0" y2="597.1" stroke="#2a2aff" stroke-width="0.9"/><circle cx="396.0" cy="597.1" r="0.95" fill="#2a2aff"/><text x="396.0" y="584.3" font-size="3.7" fill="#ff2a2a" font-weight="normal" text-anchor="middle" >1.76</text><text x="396.0" y="588.3" font-size="3.7" fill="#222" font-weight="normal" text-anchor="middle" >1.08</text><text x="396.0" y="592.3" font-size="3.7" fill="#2a2aff" font-weight="normal" text-anchor="middle" >0.52</text><line x1="404.5" y1="598.3" x2="404.5" y2="596.4" stroke="#ff2a2a" stroke-width="0.9"/><circle cx="404.5" cy="596.4" r="0.95" fill="#ff2a2a"/><text x="404.5" y="591.3" font-size="3.7" fill="#2a2aff" font-weight="normal" text-anchor="middle" >0.79</text><text x="404.5" y="595.3" font-size="3.7" fill="#ff2a2a" font-weight="normal" text-anchor="middle" >0.09</text><line x1="412.7" y1="598.3" x2="412.7" y2="597.1" stroke="#222" stroke-width="0.9"/><circle cx="412.7" cy="597.1" r="0.95" fill="#222"/><text x="413.5" y="595.5999999999999" font-size="3.7" fill="#222" font-weight="normal" text-anchor="middle" >0.48</text><line x1="455.0" y1="598.3" x2="455.0" y2="584.0" stroke="#ff2a2a" stroke-width="0.9"/><circle cx="455.0" cy="584.0" r="0.95" fill="#ff2a2a"/><text x="455.0" y="582.3499999999999" font-size="3.7" fill="#ff2a2a" font-weight="normal" text-anchor="middle" >5.96</text><line x1="463.6" y1="598.3" x2="463.6" y2="593.8" stroke="#222" stroke-width="0.9"/><circle cx="463.6" cy="593.8" r="0.95" fill="#222"/><text x="463.6" y="592.0874999999999" font-size="3.7" fill="#222" font-weight="normal" text-anchor="middle" >1.77</text><line x1="497.7" y1="598.3" x2="497.7" y2="551.3" stroke="#ff2a2a" stroke-width="0.9"/><circle cx="497.7" cy="551.3" r="0.95" fill="#ff2a2a"/><text x="497.7" y="549.5749999999999" font-size="3.7" fill="#ff2a2a" font-weight="normal" text-anchor="middle" >19.79</text><text x="307" y="651.2" font-size="4.85" fill="#ff1a1a" font-weight="bold" text-anchor="start" >SAN COSME</text><text x="307" y="658.6" font-size="4.85" fill="#111" font-weight="bold" text-anchor="start" >VILLA RODOLFO RICCIARDELLI</text><text x="307" y="666.4" font-size="4.85" fill="#1a1aff" font-weight="bold" text-anchor="start" >VILA HELIOPOLIS</text><text x="4.5" y="645" font-size="4.6" fill="#111" font-weight="bold" text-anchor="start" >LEGEND</text><text x="4.5" y="652.6" font-size="3.7" fill="#222" font-weight="normal" text-anchor="start" >CONSTRUCCIÓN INFORMAL PERMANENTE</text><text x="4.5" y="661.3000000000001" font-size="3.7" fill="#222" font-weight="normal" text-anchor="start" >CONSTRUCCIÓN INFORMAL TEMPORAL</text><text x="4.5" y="670.0" font-size="3.7" fill="#222" font-weight="normal" text-anchor="start" >VIVIENDA FORMAL/SOCIAL</text><text x="4.5" y="678.7" font-size="3.7" fill="#222" font-weight="normal" text-anchor="start" >INFRAESTRUCTURE</text><text x="4.5" y="687.4" font-size="3.7" fill="#222" font-weight="normal" text-anchor="start" >STORAGES</text><text x="4.5" y="696.1" font-size="3.7" fill="#222" font-weight="normal" text-anchor="start" >COMERCIO FORMAL</text><text x="120.3" y="645.9" font-size="4.4" fill="#333" font-weight="normal" text-anchor="middle" >N/C</text><text x="138.2" y="645.9" font-size="4.4" fill="#333" font-weight="normal" text-anchor="middle" >1L</text><text x="156" y="645.9" font-size="4.4" fill="#333" font-weight="normal" text-anchor="middle" >2L</text><text x="173.6" y="645.9" font-size="4.4" fill="#333" font-weight="normal" text-anchor="middle" >3L</text><text x="191.2" y="645.9" font-size="4.4" fill="#333" font-weight="normal" text-anchor="middle" >4L</text><text x="208.6" y="645.9" font-size="4.4" fill="#333" font-weight="normal" text-anchor="middle" >5L</text><text x="226.3" y="645.9" font-size="4.4" fill="#333" font-weight="normal" text-anchor="middle" >6L</text><rect x="113.3" y="649.2" width="14.2" height="3.6" fill="#e2f0fb"/><rect x="131.2" y="649.2" width="14.2" height="3.6" fill="#8aa8f0"/><rect x="149" y="649.2" width="14.2" height="3.6" fill="#3470ee"/><rect x="166.8" y="649.2" width="14.2" height="3.6" fill="#1010ee"/><rect x="184.2" y="649.2" width="14.2" height="3.6" fill="#0a0a8a"/><rect x="201.5" y="649.2" width="14.2" height="3.6" fill="#0c0c2c"/><rect x="131.2" y="658.0" width="14.2" height="3.6" fill="#f8acd0"/><rect x="149" y="658.0" width="14.2" height="3.6" fill="#f070b0"/><rect x="166.8" y="658.0" width="14.2" height="3.6" fill="#f0207e"/><rect x="184.2" y="658.0" width="14.2" height="3.6" fill="#f01050"/><rect x="201.5" y="658.0" width="14.2" height="3.6" fill="#880a2a"/><rect x="131.2" y="666.9" width="14.2" height="3.6" fill="#f6b4f2"/><rect x="149" y="666.9" width="14.2" height="3.6" fill="#e876e8"/><rect x="166.8" y="666.9" width="14.2" height="3.6" fill="#d024e2"/><rect x="184.2" y="666.9" width="14.2" height="3.6" fill="#9010c0"/><rect x="201.5" y="666.9" width="14.2" height="3.6" fill="#520a62"/><rect x="219.0" y="666.9" width="14.2" height="3.6" fill="#220a22"/><rect x="113.3" y="675.4" width="14.2" height="3.6" fill="#f5a312"/><rect x="113.3" y="683.8" width="14.2" height="3.6" fill="#12a012"/><rect x="113.3" y="692.4" width="14.2" height="3.6" fill="#f25512"/><text x="42.5" y="293.91" font-size="2.9" fill="#1a1a1a" text-anchor="middle" textLength="30" lengthAdjust="spacingAndGlyphs" transform="rotate(0 42.5 292.9)">GENERAL AGUILAR STREET</text><text x="23.2" y="176.61" font-size="2.9" fill="#dddddd" text-anchor="middle" textLength="18.6" lengthAdjust="spacingAndGlyphs" transform="rotate(0 23.2 175.6)">GENERAL AGUILAR</text><text x="132.8" y="111.81" font-size="2.9" fill="#1a1a1a" text-anchor="middle" textLength="17.5" lengthAdjust="spacingAndGlyphs" transform="rotate(14 132.8 110.8)">RIBEIRO STREET</text><text x="153.7" y="324.12" font-size="2.9" fill="#1a1a1a" text-anchor="middle" textLength="23.2" lengthAdjust="spacingAndGlyphs" transform="rotate(0 153.7 323.1)">BRIGADIER LOPEZ AVENUE</text><text x="140.6" y="214.41" font-size="2.9" fill="#555" text-anchor="middle" textLength="18.5" lengthAdjust="spacingAndGlyphs" transform="rotate(90 140.6 213.4)">TENIENTE STREET</text><text x="221.3" y="76.02" font-size="2.9" fill="#1a1a1a" text-anchor="middle" textLength="21.5" lengthAdjust="spacingAndGlyphs" transform="rotate(-24 221.3 75.0)">CORONEL DEL CAMPO</text><text x="243.7" y="90.72" font-size="2.9" fill="#1a1a1a" text-anchor="middle" textLength="23.4" lengthAdjust="spacingAndGlyphs" transform="rotate(7 243.7 89.7)">WILLIAM RICHARDSON STREET</text><text x="225.5" y="180.01" font-size="2.9" fill="#1a1a1a" text-anchor="middle" textLength="24.0" lengthAdjust="spacingAndGlyphs" transform="rotate(7 225.5 179.0)">GENERAL SAVIO STREET</text><text x="222.1" y="236.51" font-size="2.9" fill="#1a1a1a" text-anchor="middle" textLength="13.5" lengthAdjust="spacingAndGlyphs" transform="rotate(22 222.1 235.5)">BROAD OLIVE STREET</text><text x="29.8" y="388.65" font-size="3.0" fill="#1a1a1a" text-anchor="middle" textLength="38.7" lengthAdjust="spacingAndGlyphs" transform="rotate(0 29.8 387.6)">BALDERTE Y MEDIA AVENUE</text><text x="28.3" y="484.21" font-size="2.9" fill="#1a1a1a" text-anchor="middle" textLength="20" lengthAdjust="spacingAndGlyphs" transform="rotate(-90 28.3 483.2)">ORMACHEA STREET</text><text x="135.0" y="494.31" font-size="2.9" fill="#1a1a1a" text-anchor="middle" textLength="40" lengthAdjust="spacingAndGlyphs" transform="rotate(-90 135.0 493.3)">EUGENIO GARZON BIS AVENUE STREET</text><text x="227.2" y="500.41" font-size="2.9" fill="#1a1a1a" text-anchor="middle" textLength="26.3" lengthAdjust="spacingAndGlyphs" transform="rotate(-90 227.2 499.4)">GENERAL SAVIO AVENUE</text>
</svg>
</body></html>
